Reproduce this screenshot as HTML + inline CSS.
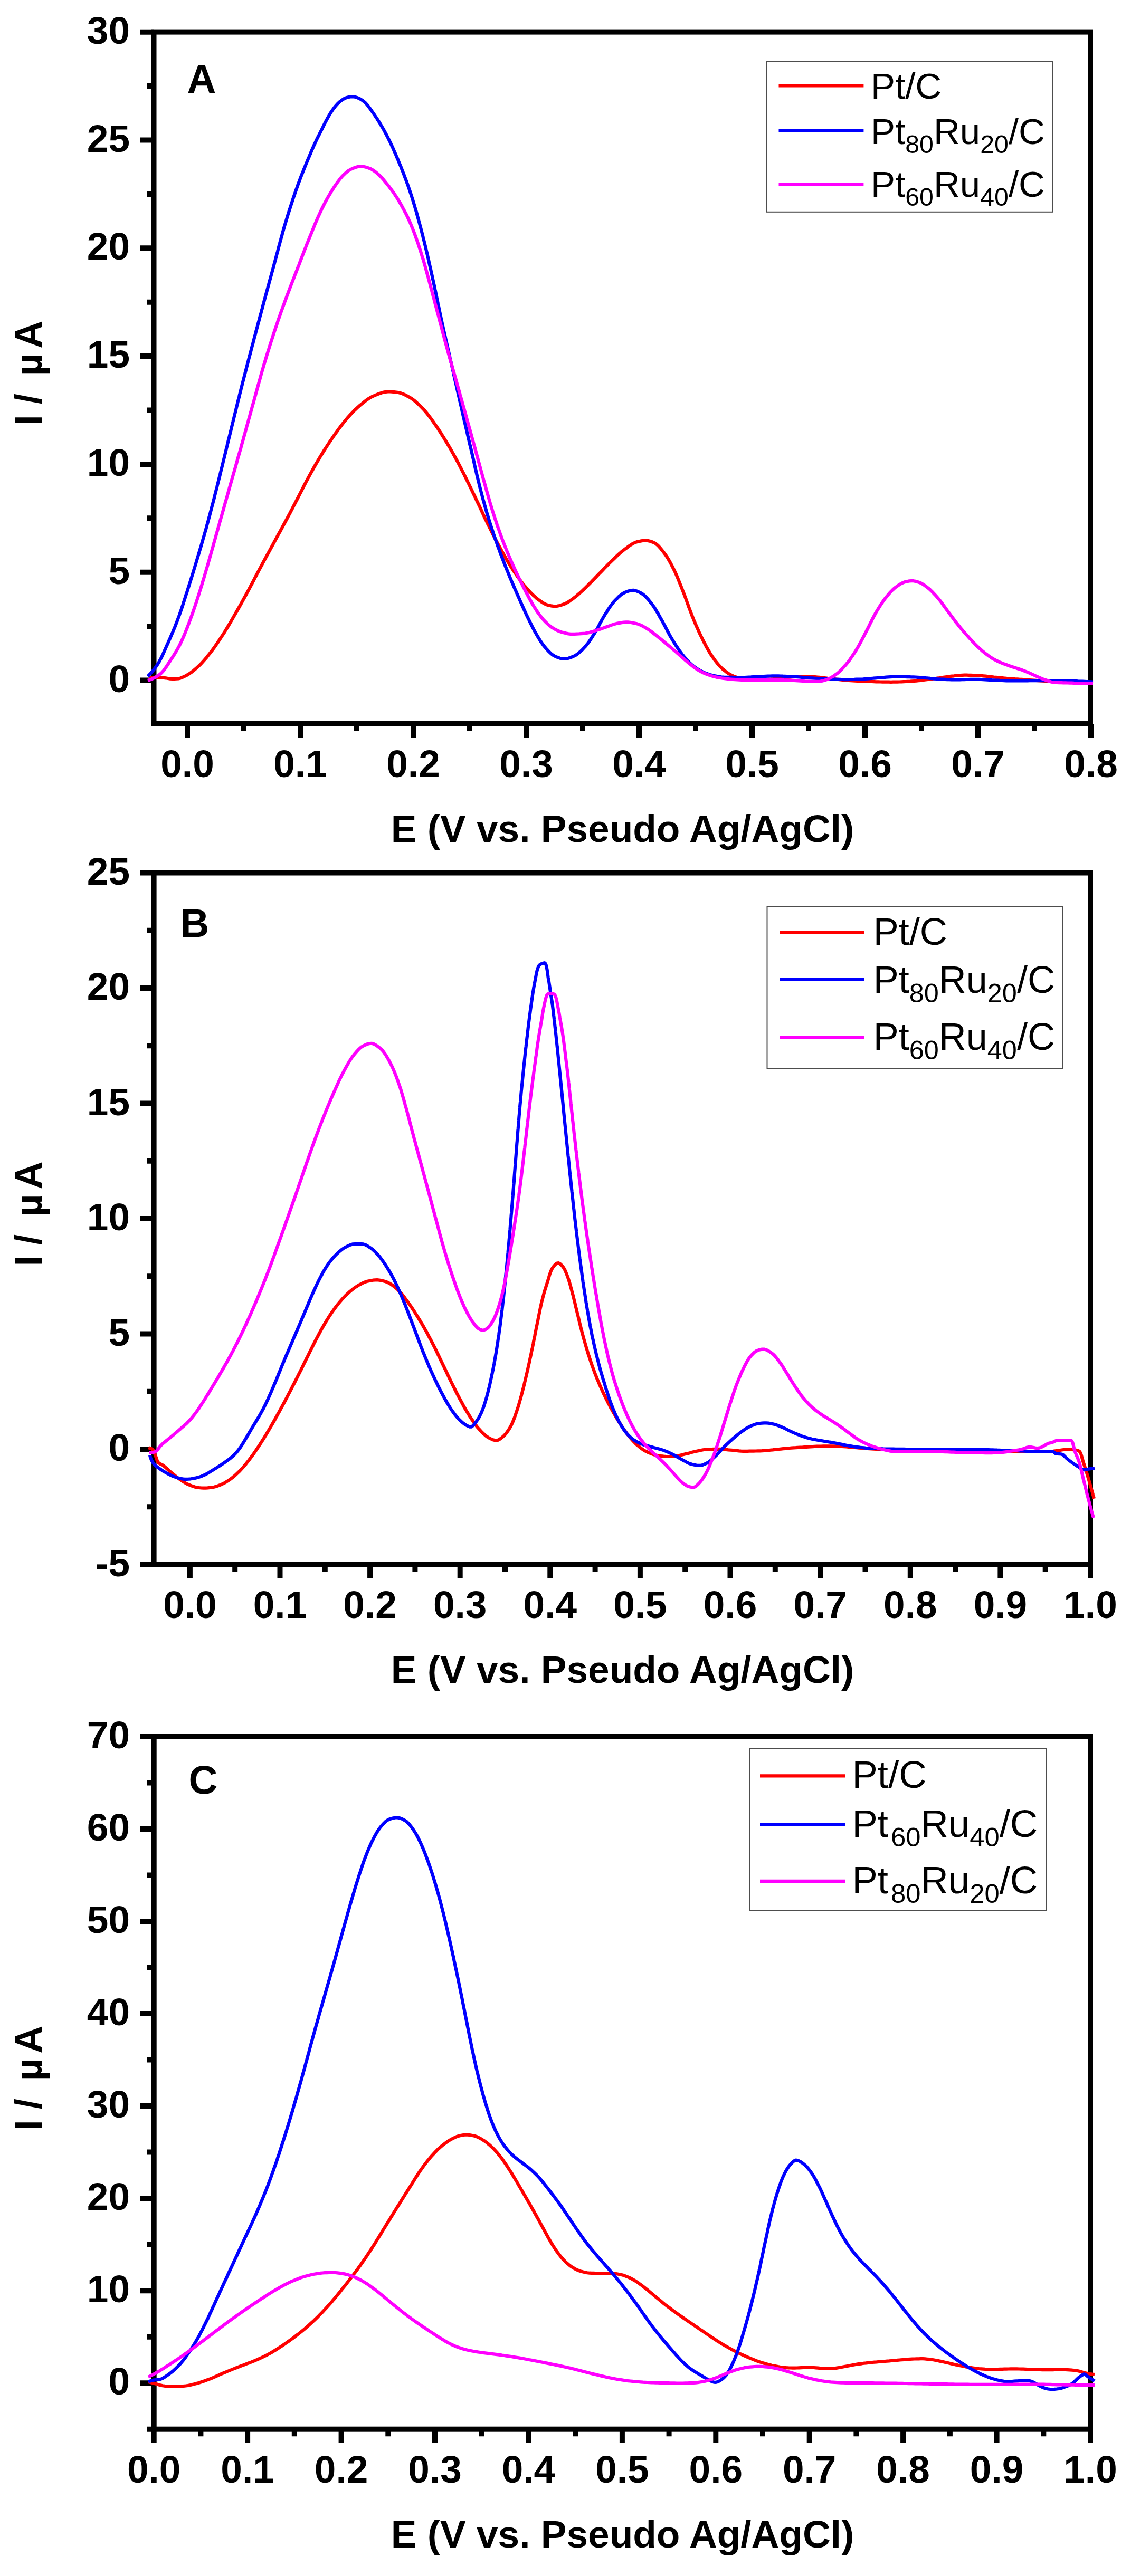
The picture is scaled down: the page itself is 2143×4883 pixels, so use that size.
<!DOCTYPE html><html><head><meta charset="utf-8"><title>DPV figure</title>
<style>html,body{margin:0;padding:0;background:#fff}svg{display:block}text{font-family:"Liberation Sans",Arial,Helvetica,sans-serif;fill:#000}.tl,.al{font-weight:bold;font-size:73px}.lg{font-weight:normal}</style></head><body>
<svg width="2143" height="4883" viewBox="0 0 2143 4883">
<rect width="2143" height="4883" fill="#fff"/>
<rect x="291.5" y="60.6" width="1774.5" height="1311.4" fill="none" stroke="#000" stroke-width="10"/>
<path d="M355.0 1372.0V1398.0M569.0 1372.0V1398.0M783.0 1372.0V1398.0M997.0 1372.0V1398.0M1211.0 1372.0V1398.0M1425.0 1372.0V1398.0M1639.0 1372.0V1398.0M1853.0 1372.0V1398.0M2067.0 1372.0V1398.0M462.0 1372.0V1385.5M676.0 1372.0V1385.5M890.0 1372.0V1385.5M1104.0 1372.0V1385.5M1318.0 1372.0V1385.5M1532.0 1372.0V1385.5M1746.0 1372.0V1385.5M1960.0 1372.0V1385.5M291.5 1289.5H265.5M291.5 1084.7H265.5M291.5 879.9H265.5M291.5 675.1H265.5M291.5 470.3H265.5M291.5 265.5H265.5M291.5 60.7H265.5M291.5 1187.1H278.0M291.5 982.3H278.0M291.5 777.5H278.0M291.5 572.7H278.0M291.5 367.9H278.0M291.5 163.1H278.0" stroke="#000" stroke-width="10" fill="none"/>
<g fill="none" stroke-width="6.2" stroke-linejoin="round" stroke-linecap="butt">
<path d="M282.4 1285.0l4 -0.6l4 -0.4l4 -0.2l4 -0.1l3.9 0.1l4 0.4l4 0.6l4 0.5l3.9 0.7l4 0.6l4 0.2l4 0l4 -0.2l3.9 -0.2l3.9 -1l3.8 -1.5l3.7 -1.7l3.5 -1.7l3.4 -2l3.4 -2.2l3.3 -2.4l3.2 -2.5l3.1 -2.6l3.1 -2.6l2.9 -2.7l2.9 -2.7l2.8 -2.8l2.7 -3l2.7 -3l2.6 -3l2.6 -3.1l2.5 -3.2l2.5 -3.1l2.5 -3.1l2.4 -3.2l2.4 -3.2l2.4 -3.2l2.3 -3.3l2.3 -3.3l2.2 -3.3l2.2 -3.4l2.2 -3.3l2.2 -3.4l2.2 -3.3l2.2 -3.4l2.1 -3.4l2.1 -3.4l2.1 -3.4l2 -3.4l2.1 -3.5l2 -3.4l2 -3.5l2 -3.4l2 -3.5l2 -3.5l2 -3.4l2 -3.5l2 -3.5l2 -3.5l1.9 -3.5l2 -3.5l1.9 -3.5l1.9 -3.5l2 -3.5l1.9 -3.5l1.9 -3.5l1.9 -3.5l1.9 -3.5l1.9 -3.5l1.9 -3.6l1.9 -3.5l1.9 -3.5l1.8 -3.6l1.9 -3.5l1.8 -3.6l1.9 -3.5l1.8 -3.6l1.9 -3.5l1.9 -3.6l1.8 -3.5l1.9 -3.5l1.9 -3.5l1.9 -3.6l1.9 -3.5l1.9 -3.5l1.9 -3.5l1.9 -3.5l2 -3.6l1.9 -3.5l1.9 -3.5l1.9 -3.5l1.9 -3.5l1.9 -3.5l1.9 -3.5l1.9 -3.5l2 -3.6l1.9 -3.5l1.9 -3.5l1.9 -3.5l2 -3.5l1.9 -3.5l1.9 -3.5l1.9 -3.5l1.9 -3.6l1.9 -3.5l1.9 -3.5l1.9 -3.5l1.9 -3.6l1.8 -3.5l1.9 -3.5l1.9 -3.6l1.8 -3.5l1.9 -3.6l1.8 -3.5l1.9 -3.6l1.8 -3.5l1.9 -3.6l1.8 -3.5l1.8 -3.6l1.8 -3.6l1.8 -3.5l1.9 -3.6l1.8 -3.6l1.8 -3.5l1.8 -3.6l1.9 -3.5l1.8 -3.6l1.9 -3.5l1.9 -3.5l1.9 -3.5l1.9 -3.5l2 -3.5l1.9 -3.5l2 -3.5l2 -3.5l2 -3.5l2 -3.4l2 -3.5l2.1 -3.4l2 -3.5l2.1 -3.4l2.1 -3.4l2.1 -3.4l2.1 -3.4l2.2 -3.4l2.1 -3.3l2.2 -3.4l2.2 -3.3l2.2 -3.4l2.3 -3.3l2.2 -3.3l2.3 -3.3l2.3 -3.2l2.3 -3.3l2.4 -3.2l2.3 -3.3l2.4 -3.2l2.4 -3.2l2.5 -3.2l2.4 -3.1l2.6 -3.2l2.5 -3l2.6 -3l2.7 -3l2.7 -3l2.7 -2.9l2.8 -2.9l2.9 -2.8l2.9 -2.8l2.9 -2.7l3 -2.6l3.1 -2.6l3.1 -2.5l3.2 -2.6l3.2 -2.4l3.3 -2.4l3.4 -2.1l3.5 -2l3.5 -1.6l3.6 -1.5l3.8 -1.6l3.8 -1.5l3.9 -1.3l3.9 -1.1l4 -0.7l3.9 -0.4l4 0.1l4 0.2l4 0.4l4 0.4l3.9 0.5l3.8 0.9l3.9 1.4l3.7 1.6l3.7 1.8l3.6 2l3.4 1.9l3.3 2.1l3.2 2.3l3.2 2.5l3 2.7l3 2.7l2.9 2.9l2.9 2.9l2.7 2.8l2.7 2.9l2.6 3l2.6 3.1l2.4 3.1l2.5 3.2l2.4 3.3l2.3 3.2l2.4 3.3l2.3 3.3l2.3 3.3l2.2 3.3l2.3 3.3l2.2 3.4l2.2 3.3l2.1 3.4l2.1 3.4l2.2 3.4l2 3.4l2.1 3.4l2.1 3.5l2 3.4l2.1 3.4l2 3.5l2 3.5l1.9 3.5l2 3.5l1.9 3.5l1.9 3.5l1.9 3.5l1.9 3.5l1.9 3.6l1.8 3.5l1.9 3.6l1.8 3.5l1.8 3.6l1.8 3.6l1.8 3.5l1.8 3.6l1.8 3.6l1.8 3.6l1.7 3.6l1.8 3.6l1.7 3.6l1.8 3.6l1.7 3.6l1.7 3.6l1.7 3.6l1.8 3.6l1.7 3.6l1.7 3.6l1.7 3.6l1.8 3.7l1.7 3.6l1.7 3.6l1.7 3.6l1.7 3.7l1.6 3.6l1.7 3.6l1.7 3.6l1.7 3.7l1.8 3.6l1.7 3.6l1.7 3.6l1.8 3.6l1.8 3.5l1.8 3.6l1.8 3.6l1.8 3.6l1.8 3.5l1.8 3.6l1.8 3.6l1.9 3.5l1.8 3.6l1.9 3.5l1.9 3.5l1.9 3.5l1.9 3.5l2 3.5l2 3.5l1.9 3.5l2 3.5l2 3.5l2 3.4l2.1 3.5l2.1 3.4l2.1 3.4l2.1 3.4l2.2 3.3l2.2 3.3l2.3 3.3l2.2 3.3l2.3 3.3l2.4 3.3l2.4 3.2l2.4 3.2l2.5 3.2l2.5 3.1l2.6 3l2.6 3l2.7 3l2.7 2.9l2.8 2.9l2.9 2.9l3 2.7l3 2.7l3.1 2.5l3.2 2.3l3.3 2.3l3.4 2.3l3.5 2l3.7 1.6l3.7 1l3.9 0.8l4.1 0.5l4 0.3l3.9 -0.3l4 -0.9l3.9 -1.1l3.8 -1.3l3.6 -1.4l3.5 -1.8l3.4 -2.2l3.4 -2.3l3.3 -2.4l3.2 -2.4l3.1 -2.4l3.1 -2.6l3 -2.6l3 -2.7l3 -2.7l2.9 -2.8l2.9 -2.8l2.8 -2.8l2.9 -2.8l2.8 -2.8l2.8 -2.9l2.8 -2.8l2.8 -2.9l2.8 -2.9l2.7 -2.9l2.8 -2.9l2.8 -2.9l2.8 -2.8l2.8 -2.9l2.7 -2.9l2.8 -2.9l2.8 -2.9l2.8 -2.8l2.8 -2.8l2.9 -2.8l2.9 -2.8l2.9 -2.8l2.9 -2.8l2.9 -2.8l3 -2.7l3 -2.6l3.1 -2.5l3.1 -2.4l3.3 -2.4l3.2 -2.5l3.4 -2.4l3.4 -2.3l3.5 -2l3.6 -1.7l3.6 -1.3l3.8 -0.8l4 -0.8l4 -0.6l4 -0.2l4 0.3l4.1 0.9l3.9 1.2l3.5 1.4l3.3 1.7l3.1 2.4l3 2.8l2.8 3.1l2.7 3.3l2.6 3.2l2.4 3.2l2.3 3.2l2.3 3.2l2.1 3.4l2.1 3.5l2 3.5l1.9 3.5l1.9 3.6l1.8 3.6l1.8 3.6l1.8 3.6l1.7 3.6l1.6 3.6l1.6 3.7l1.5 3.7l1.5 3.7l1.5 3.7l1.5 3.8l1.5 3.7l1.4 3.7l1.5 3.8l1.5 3.7l1.4 3.7l1.4 3.8l1.4 3.7l1.4 3.8l1.3 3.7l1.4 3.8l1.3 3.8l1.4 3.7l1.4 3.8l1.4 3.7l1.4 3.8l1.5 3.7l1.5 3.7l1.5 3.7l1.6 3.7l1.5 3.7l1.6 3.7l1.6 3.6l1.7 3.7l1.6 3.6l1.7 3.7l1.7 3.6l1.8 3.6l1.7 3.6l1.8 3.5l1.9 3.6l1.8 3.5l1.9 3.6l2 3.5l2 3.5l2 3.5l2.1 3.4l2.2 3.3l2.3 3.2l2.3 3.3l2.4 3.2l2.5 3.2l2.6 3.1l2.7 3l2.8 2.9l2.9 2.7l3 2.5l3.2 2.5l3.3 2.4l3.4 2.2l3.5 1.9l3.6 1.6l3.7 1.5l3.8 1.4l3.8 1.3l4 1.1l3.9 0.7l4 0.3l3.9 0.1l4 0.1l4 0l4 0.1l4 0l4 0.1l4.1 0l4 0l4 0l4 -0.2l4 -0.3l3.9 -0.3l4 -0.4l4 -0.5l4 -0.4l4 -0.4l4 -0.4l4 -0.4l3.9 -0.5l4 -0.4l4 -0.4l4 -0.4l4 -0.3l4 -0.2l3.9 -0.2l4 -0.1l4.1 -0.1l4 0l4 0l3.9 0.1l4 0.2l4 0.3l4 0.3l4 0.3l4 0.4l4 0.4l4 0.5l3.9 0.5l4 0.5l4 0.4l4 0.4l3.9 0.5l4 0.4l4 0.4l4 0.5l4 0.4l3.9 0.4l4 0.4l4 0.3l4 0.3l4 0.2l4 0.2l4 0.3l4 0.2l4 0.2l4 0.1l4 0.2l4 0.2l4 0.1l4 0.1l4 0.1l4 0.2l4 0.1l4 0.1l4 0.1l4 0l4 0.1l4 0l4 0.1l4 -0.1l4 0l4 -0.1l4 -0.1l4 -0.2l4 -0.2l4 -0.1l4 -0.2l4 -0.2l3.9 -0.3l4 -0.3l4 -0.3l4 -0.5l4 -0.4l4 -0.5l3.9 -0.5l4 -0.5l4 -0.5l3.9 -0.5l4 -0.5l4 -0.6l3.9 -0.6l4 -0.5l3.9 -0.6l4 -0.6l4 -0.6l3.9 -0.6l4 -0.6l4 -0.4l3.9 -0.4l4 -0.5l4 -0.4l4 -0.3l4 -0.2l4 -0.2l4 0l4 0.1l4 0.1l4 0.1l4 0.2l4 0.1l4 0.2l4 0.4l4 0.4l3.9 0.4l4 0.4l4 0.4l4 0.5l3.9 0.5l4 0.4l4 0.4l4 0.4l4 0.4l3.9 0.4l4 0.4l4 0.3l4 0.4l4 0.3l4 0.3l4 0.2l4 0.3l4 0.2l3.9 0.3l4 0.3l4 0.2l4 0.3l4 0.3l4 0.3l4 0.3l4 0.3l4 0.2l4 0.3l4 0.2l4 0.2l4 0.3l3.9 0.2l4 0.2l4 0.2l4 0.2l4 0.2l4 0.2l4 0.2l4 0.2l4 0.1l4 0.2l4 0.2l4 0.2l4 0.1l4 0.2l4 0.1l4 0.2l4 0.1l4 0.2l4 0.1l4 0.2l4 0.1" stroke="#ff0000"/>
<path d="M280.0 1282.0l2.8 -2.9l2.8 -3l2.6 -3l2.6 -3.1l2.5 -3.2l2.3 -3.2l2.3 -3.3l2.1 -3.3l2 -3.4l1.9 -3.5l1.8 -3.5l1.8 -3.6l1.7 -3.7l1.6 -3.7l1.7 -3.7l1.6 -3.7l1.6 -3.6l1.7 -3.7l1.6 -3.7l1.6 -3.6l1.6 -3.7l1.6 -3.7l1.6 -3.6l1.6 -3.7l1.5 -3.7l1.6 -3.7l1.5 -3.7l1.5 -3.8l1.4 -3.7l1.4 -3.7l1.4 -3.8l1.4 -3.7l1.4 -3.8l1.3 -3.8l1.3 -3.8l1.3 -3.7l1.2 -3.8l1.3 -3.8l1.2 -3.9l1.3 -3.8l1.2 -3.8l1.2 -3.8l1.2 -3.8l1.3 -3.8l1.2 -3.9l1.2 -3.8l1.2 -3.8l1.2 -3.8l1.2 -3.8l1.2 -3.8l1.2 -3.9l1.2 -3.8l1.2 -3.8l1.2 -3.8l1.1 -3.9l1.2 -3.8l1.2 -3.8l1.1 -3.9l1.2 -3.8l1.1 -3.8l1.2 -3.9l1.1 -3.8l1.2 -3.8l1.1 -3.9l1.2 -3.8l1.1 -3.9l1.2 -3.8l1.1 -3.8l1.1 -3.9l1.1 -3.8l1.1 -3.9l1.1 -3.8l1.1 -3.9l1.1 -3.8l1.1 -3.9l1.1 -3.8l1 -3.9l1.1 -3.9l1.1 -3.8l1 -3.9l1 -3.9l1.1 -3.8l1 -3.9l1 -3.9l1 -3.8l1 -3.9l1.1 -3.9l1 -3.9l1 -3.9l1 -3.8l1 -3.9l0.9 -3.9l1 -3.9l1 -3.9l1 -3.8l1 -3.9l0.9 -3.9l1 -3.9l1 -3.9l0.9 -3.9l1 -3.8l1 -3.9l0.9 -3.9l1 -3.9l1 -3.9l0.9 -3.9l1 -3.9l0.9 -3.9l1 -3.9l0.9 -3.8l1 -3.9l0.9 -3.9l1 -3.9l0.9 -3.9l0.9 -3.9l1 -3.9l0.9 -3.9l1 -3.9l0.9 -3.9l1 -3.9l0.9 -3.8l1 -3.9l0.9 -3.9l1 -3.9l0.9 -3.9l1 -3.9l0.9 -3.9l1 -3.9l0.9 -3.9l1 -3.9l0.9 -3.8l1 -3.9l1 -3.9l0.9 -3.9l1 -3.9l0.9 -3.9l1 -3.9l0.9 -3.9l1 -3.8l1 -3.9l0.9 -3.9l1 -3.9l1 -3.9l0.9 -3.9l1 -3.9l1 -3.8l1 -3.9l1 -3.9l1 -3.9l1 -3.9l1 -3.8l1 -3.9l1 -3.9l1 -3.9l1 -3.8l1 -3.9l1 -3.9l1 -3.9l1 -3.8l1 -3.9l1.1 -3.9l1 -3.9l1 -3.8l1 -3.9l1 -3.9l1.1 -3.8l1 -3.9l1 -3.9l1 -3.9l1.1 -3.8l1 -3.9l1 -3.9l1 -3.8l1.1 -3.9l1 -3.9l1 -3.9l1.1 -3.8l1 -3.9l1 -3.9l1 -3.8l1.1 -3.9l1 -3.9l1.1 -3.8l1 -3.9l1 -3.9l1.1 -3.8l1 -3.9l1 -3.9l1.1 -3.8l1 -3.9l1.1 -3.9l1 -3.8l1.1 -3.9l1 -3.9l1.1 -3.8l1 -3.9l1.1 -3.9l1 -3.8l1.1 -3.9l1.1 -3.8l1 -3.9l1.1 -3.9l1 -3.8l1.1 -3.9l1 -3.9l1 -3.8l1.1 -3.9l1 -3.9l1 -3.9l1 -3.8l1.1 -3.9l1 -3.9l1 -3.8l1 -3.9l1.1 -3.9l1 -3.9l1.1 -3.8l1 -3.9l1.1 -3.8l1 -3.9l1.1 -3.9l1.1 -3.8l1.1 -3.9l1.1 -3.8l1.2 -3.8l1.1 -3.9l1.2 -3.8l1.2 -3.8l1.1 -3.9l1.2 -3.8l1.2 -3.8l1.2 -3.8l1.3 -3.8l1.2 -3.9l1.2 -3.8l1.3 -3.8l1.2 -3.8l1.3 -3.8l1.3 -3.8l1.3 -3.8l1.3 -3.7l1.3 -3.8l1.4 -3.8l1.3 -3.8l1.4 -3.7l1.4 -3.8l1.4 -3.7l1.4 -3.8l1.4 -3.7l1.5 -3.7l1.5 -3.7l1.5 -3.8l1.5 -3.7l1.5 -3.7l1.5 -3.7l1.6 -3.7l1.5 -3.7l1.6 -3.7l1.5 -3.7l1.6 -3.7l1.5 -3.6l1.6 -3.7l1.6 -3.7l1.6 -3.7l1.7 -3.6l1.7 -3.6l1.7 -3.7l1.7 -3.6l1.8 -3.6l1.8 -3.5l1.8 -3.6l1.8 -3.6l1.8 -3.6l1.8 -3.6l1.7 -3.6l1.8 -3.5l1.9 -3.6l1.9 -3.5l1.9 -3.5l2 -3.6l2 -3.4l2.2 -3.5l2.2 -3.3l2.3 -3.2l2.4 -3.2l2.6 -3l2.7 -3l2.9 -2.8l3.1 -2.6l3.2 -2.3l3.5 -2.2l3.6 -1.6l3.9 -1l4 -0.8l3.9 -0.4l4 0.4l3.9 1.2l3.7 1.5l3.6 1.7l3.5 2.2l3.2 2.4l2.9 2.6l2.7 2.9l2.5 3.1l2.4 3.3l2.4 3.3l2.3 3.3l2.3 3.3l2.3 3.3l2.2 3.3l2.3 3.3l2.1 3.4l2.2 3.4l2.1 3.4l2 3.5l2.1 3.4l2 3.5l1.9 3.5l1.9 3.5l1.9 3.5l1.8 3.6l1.8 3.5l1.8 3.6l1.8 3.6l1.7 3.7l1.7 3.6l1.7 3.6l1.6 3.7l1.6 3.7l1.7 3.6l1.5 3.7l1.6 3.7l1.6 3.7l1.5 3.7l1.5 3.7l1.6 3.7l1.5 3.7l1.4 3.7l1.5 3.7l1.5 3.8l1.4 3.7l1.4 3.8l1.4 3.7l1.4 3.8l1.4 3.8l1.3 3.7l1.4 3.8l1.3 3.8l1.3 3.8l1.2 3.8l1.3 3.8l1.2 3.8l1.2 3.8l1.2 3.8l1.1 3.8l1.2 3.9l1.1 3.8l1.2 3.9l1.1 3.8l1.1 3.9l1 3.8l1.1 3.9l1.1 3.9l1 3.8l1.1 3.9l1 3.9l1 3.8l1.1 3.9l1 3.9l1 3.9l1 3.8l0.9 3.9l1 3.9l1 3.9l0.9 3.9l1 3.9l0.9 3.9l0.9 3.9l1 3.9l0.9 3.9l0.9 3.9l0.9 3.9l0.9 3.9l0.8 3.9l0.9 3.9l0.9 3.9l0.9 3.9l0.9 3.9l0.8 3.9l0.9 3.9l0.9 3.9l0.8 4l0.9 3.9l0.8 3.9l0.9 3.9l0.8 3.9l0.8 3.9l0.9 3.9l0.8 4l0.8 3.9l0.8 3.9l0.8 3.9l0.8 3.9l0.8 4l0.9 3.9l0.8 3.9l0.8 3.9l0.8 4l0.9 3.9l0.8 3.9l0.8 3.9l0.9 3.9l0.8 3.9l0.9 3.9l0.9 3.9l0.8 3.9l0.9 4l0.9 3.9l0.9 3.9l0.9 3.9l0.8 3.9l0.9 3.9l0.9 3.9l0.9 3.9l0.9 3.9l0.9 3.9l0.9 3.9l0.9 3.9l0.9 3.9l0.8 3.9l0.9 3.9l0.9 3.9l0.9 3.9l0.9 3.9l0.9 3.9l0.9 4l0.9 3.9l0.8 3.9l0.9 3.9l0.9 3.9l0.9 3.9l0.9 3.9l0.9 3.9l0.9 3.9l0.8 3.9l0.9 3.9l0.9 3.9l0.9 3.9l0.9 3.9l0.9 3.9l0.9 3.9l0.9 3.9l0.9 3.9l0.9 3.9l0.9 3.9l0.8 3.9l0.9 3.9l0.9 3.9l0.9 3.9l0.9 4l0.9 3.9l1 3.9l0.9 3.9l0.9 3.9l0.9 3.9l0.9 3.9l0.9 3.9l0.9 3.9l0.9 3.9l0.9 3.9l0.9 3.9l0.9 3.9l0.9 3.9l1 3.9l0.9 3.9l0.9 3.9l0.9 3.9l0.9 3.9l0.9 3.9l0.9 3.9l0.9 3.9l0.8 3.9l0.9 3.9l0.9 3.9l0.9 3.9l0.9 3.9l0.9 3.9l0.9 3.9l1 3.9l0.9 3.9l1 3.9l0.9 3.8l1 3.9l1 3.9l1 3.9l1 3.9l1 3.8l1.1 3.9l1 3.9l1.1 3.8l1 3.9l1.1 3.9l1.1 3.8l1.1 3.9l1.1 3.8l1.1 3.9l1.2 3.8l1.1 3.8l1.2 3.8l1.2 3.9l1.2 3.8l1.2 3.8l1.2 3.8l1.3 3.8l1.3 3.8l1.2 3.8l1.3 3.8l1.3 3.8l1.3 3.8l1.4 3.8l1.3 3.7l1.3 3.8l1.4 3.8l1.4 3.7l1.3 3.8l1.4 3.8l1.5 3.7l1.4 3.7l1.4 3.8l1.5 3.7l1.4 3.7l1.5 3.8l1.5 3.7l1.5 3.7l1.5 3.7l1.5 3.7l1.5 3.7l1.5 3.7l1.6 3.7l1.5 3.7l1.6 3.7l1.6 3.7l1.6 3.7l1.6 3.6l1.6 3.7l1.6 3.7l1.6 3.6l1.6 3.7l1.7 3.6l1.6 3.7l1.6 3.7l1.6 3.6l1.7 3.7l1.6 3.6l1.7 3.7l1.6 3.6l1.7 3.7l1.7 3.6l1.7 3.6l1.8 3.6l1.7 3.6l1.8 3.6l1.8 3.6l1.8 3.6l1.8 3.5l1.9 3.6l2 3.5l2 3.4l2 3.5l2.1 3.5l2.1 3.4l2.2 3.4l2.3 3.3l2.3 3.2l2.5 3l2.6 3.1l2.8 3.1l2.9 3.1l3 2.8l3.1 2.5l3.2 2.1l3.4 1.6l3.8 1.5l3.9 1.4l4 1l3.9 0.3l3.9 -0.4l4 -0.9l4 -1.3l3.7 -1.4l3.5 -1.5l3.4 -2l3.3 -2.3l3.2 -2.7l3.1 -2.8l2.9 -2.8l2.7 -2.9l2.7 -2.9l2.5 -3.1l2.4 -3.1l2.4 -3.3l2.3 -3.4l2.2 -3.4l2.2 -3.4l2.1 -3.4l2.1 -3.4l2 -3.4l2 -3.5l1.9 -3.5l1.9 -3.6l1.8 -3.5l1.9 -3.6l2 -3.5l2 -3.5l2 -3.4l2.1 -3.4l2.2 -3.4l2.1 -3.5l2.2 -3.4l2.3 -3.3l2.3 -3.3l2.4 -3.2l2.5 -3l2.7 -2.9l2.8 -2.9l2.9 -2.9l3.1 -2.8l3.2 -2.5l3.4 -2.2l3.4 -1.7l3.7 -1.4l3.9 -1.3l4 -0.9l3.9 -0.2l3.9 0.7l3.9 1.4l3.8 1.8l3.4 1.8l3.2 2.1l3 2.5l3 2.9l2.8 3l2.7 3.2l2.5 3.2l2.5 3.1l2.3 3.2l2.3 3.2l2.1 3.4l2.1 3.4l2.1 3.5l2 3.5l1.9 3.6l2 3.5l2 3.5l2 3.5l1.9 3.5l1.9 3.5l1.8 3.6l1.9 3.5l1.8 3.6l1.9 3.6l1.9 3.5l1.9 3.5l2.1 3.4l2 3.4l2.1 3.4l2.2 3.5l2.1 3.3l2.3 3.4l2.2 3.3l2.3 3.3l2.4 3.2l2.4 3.2l2.5 3.1l2.6 3l2.7 3.1l2.7 3l2.8 2.9l2.9 2.8l3 2.6l3.1 2.4l3.2 2.4l3.4 2.2l3.4 2.1l3.6 2l3.5 1.7l3.7 1.6l3.7 1.5l3.8 1.4l3.9 1.2l3.8 0.9l3.9 0.8l4 0.8l3.9 0.7l4 0.5l4 0.4l4 0.2l4 0l4 0l4 0l4 0.1l4 0l4 0l4.1 0l4 0l4 0l4 -0.2l4 -0.2l4 -0.2l4 -0.3l4 -0.2l4 -0.3l4 -0.2l4 -0.1l4 -0.2l4 -0.2l4 -0.2l4 -0.2l4 -0.1l4 0l4 0l4 0l4 0.1l4 0.2l4 0.1l4 0.2l4 0.3l4 0.2l4 0.2l4 0.2l4 0.3l4 0.3l4 0.3l4 0.4l3.9 0.3l4 0.3l4 0.3l4 0.2l4 0.3l4 0.2l4 0.2l4 0.3l4 0.2l4 0.1l4 0.2l4 0.2l4 0.2l4 0.2l4 0.2l4 0.2l4 0.1l4 0.1l4 0.1l4 0l4 0l4 -0.1l4 0l4.1 -0.1l4 -0.2l4 -0.1l4 -0.1l4 -0.2l3.9 -0.3l4 -0.3l4 -0.3l4 -0.4l4 -0.3l4 -0.4l4 -0.3l4 -0.3l4 -0.3l4 -0.3l4 -0.4l4 -0.3l4 -0.2l4 -0.2l4 -0.1l4 0l4 0l4 0l4 0.1l4 0l4 0.1l4 0.1l4 0.1l4 0.1l4 0.1l4 0.3l4 0.3l4 0.4l4 0.3l4 0.4l4 0.3l3.9 0.4l4 0.3l4 0.4l4 0.4l4 0.3l4 0.3l4 0.1l4 0.2l4 0.2l4 0.1l4 0.1l4 0.1l4 0l4 -0.1l4 0l4 -0.1l4 -0.1l4 -0.1l4 0l4 -0.1l4 0l4 -0.1l4.1 0l4 0.1l4 0.1l4 0.2l4 0.2l4 0.2l4 0.2l4 0.3l4 0.2l3.9 0.2l4 0.2l4 0.2l4 0.1l4.1 0.1l4 0.2l4 0l4 0.1l4 0l4 0l4 0l4 0l4 -0.1l4 0l4 0l4 0l4 -0.1l4 0l4 0l4 0l4 0l4 0l4 0l4 0l4 0l4 0l4 0.1l4.1 0l4 0.1l4 0.1l4 0l4 0.1l4 0.1l4 0.1l4 0.1l4 0l4 0.1l4 0.1l4 0.1l4 0.2l4 0.1l4 0.1l4 0.2l4 0.2l4 0.1l4 0.2l4 0.2" stroke="#0000ff"/>
<path d="M280.0 1290.0l4 -1.4l3.9 -1.5l3.7 -1.8l3.5 -1.9l3.4 -2.1l3.1 -2.2l3 -2.3l2.7 -2.7l2.6 -2.9l2.4 -3.2l2.4 -3.4l2.3 -3.5l2.2 -3.4l2.2 -3.5l2.2 -3.3l2.2 -3.3l2.2 -3.4l2.1 -3.4l2.1 -3.4l2.1 -3.5l2 -3.4l1.9 -3.6l1.9 -3.5l1.7 -3.5l1.8 -3.6l1.6 -3.6l1.7 -3.7l1.6 -3.7l1.5 -3.7l1.5 -3.7l1.5 -3.7l1.5 -3.7l1.4 -3.8l1.4 -3.7l1.4 -3.8l1.4 -3.7l1.4 -3.8l1.4 -3.8l1.4 -3.7l1.3 -3.8l1.3 -3.8l1.3 -3.8l1.3 -3.7l1.2 -3.8l1.3 -3.8l1.2 -3.9l1.3 -3.8l1.2 -3.8l1.2 -3.8l1.2 -3.8l1.2 -3.8l1.2 -3.8l1.2 -3.9l1.2 -3.8l1.1 -3.8l1.2 -3.8l1.1 -3.9l1.2 -3.8l1.1 -3.9l1.1 -3.8l1.1 -3.8l1.2 -3.9l1.1 -3.8l1.1 -3.9l1.1 -3.8l1.1 -3.9l1.1 -3.8l1.1 -3.9l1.1 -3.8l1.1 -3.9l1.1 -3.8l1.1 -3.9l1.1 -3.8l1 -3.9l1.1 -3.8l1.1 -3.9l1.1 -3.8l1 -3.9l1.1 -3.8l1.1 -3.9l1.1 -3.8l1.1 -3.9l1.1 -3.8l1 -3.9l1.1 -3.8l1.1 -3.9l1.1 -3.8l1.1 -3.9l1.1 -3.8l1.1 -3.9l1.1 -3.8l1 -3.9l1.1 -3.8l1.1 -3.9l1.1 -3.9l1.1 -3.8l1.1 -3.9l1.1 -3.8l1.1 -3.9l1 -3.8l1.1 -3.9l1.1 -3.8l1.1 -3.9l1.1 -3.8l1.1 -3.9l1.1 -3.8l1.1 -3.9l1.1 -3.8l1.1 -3.8l1.1 -3.9l1.1 -3.8l1.1 -3.9l1.1 -3.8l1.1 -3.9l1 -3.8l1.1 -3.9l1.1 -3.8l1.1 -3.9l1.1 -3.8l1.1 -3.9l1.1 -3.8l1 -3.9l1.1 -3.9l1.1 -3.8l1.1 -3.9l1 -3.8l1.1 -3.9l1.1 -3.8l1 -3.9l1.1 -3.8l1.1 -3.9l1 -3.9l1.1 -3.8l1.1 -3.9l1 -3.8l1.1 -3.9l1.1 -3.8l1 -3.9l1.1 -3.9l1.1 -3.8l1 -3.9l1.1 -3.8l1.1 -3.9l1.1 -3.8l1 -3.9l1.1 -3.8l1.1 -3.9l1 -3.9l1.1 -3.8l1 -3.9l1.1 -3.8l1.1 -3.9l1 -3.9l1.1 -3.8l1.1 -3.9l1 -3.8l1.1 -3.9l1.1 -3.8l1.1 -3.9l1.1 -3.8l1.1 -3.9l1.1 -3.8l1.2 -3.8l1.1 -3.9l1.2 -3.8l1.1 -3.8l1.2 -3.9l1.2 -3.8l1.2 -3.8l1.2 -3.8l1.2 -3.8l1.2 -3.9l1.2 -3.8l1.2 -3.8l1.3 -3.8l1.2 -3.8l1.2 -3.8l1.3 -3.8l1.3 -3.8l1.2 -3.8l1.3 -3.8l1.3 -3.8l1.3 -3.8l1.2 -3.8l1.3 -3.7l1.4 -3.8l1.3 -3.8l1.3 -3.8l1.4 -3.7l1.3 -3.8l1.4 -3.8l1.4 -3.7l1.3 -3.8l1.4 -3.7l1.4 -3.8l1.4 -3.7l1.4 -3.8l1.4 -3.7l1.4 -3.8l1.4 -3.7l1.4 -3.8l1.5 -3.7l1.4 -3.7l1.5 -3.8l1.4 -3.7l1.5 -3.7l1.4 -3.8l1.5 -3.7l1.4 -3.7l1.5 -3.7l1.4 -3.8l1.5 -3.7l1.4 -3.7l1.4 -3.8l1.5 -3.7l1.4 -3.8l1.4 -3.7l1.5 -3.7l1.4 -3.8l1.4 -3.7l1.5 -3.7l1.4 -3.8l1.5 -3.7l1.5 -3.7l1.5 -3.7l1.5 -3.7l1.5 -3.7l1.5 -3.7l1.5 -3.7l1.5 -3.7l1.6 -3.8l1.5 -3.7l1.5 -3.7l1.6 -3.7l1.5 -3.7l1.6 -3.6l1.7 -3.7l1.6 -3.6l1.7 -3.7l1.7 -3.6l1.7 -3.6l1.8 -3.5l1.8 -3.6l1.8 -3.5l1.9 -3.6l1.9 -3.5l2 -3.5l2 -3.5l2.1 -3.4l2 -3.5l2.2 -3.4l2.1 -3.4l2.2 -3.3l2.2 -3.3l2.3 -3.3l2.4 -3.2l2.4 -3.3l2.5 -3.1l2.6 -3l2.8 -2.8l2.9 -2.8l3.1 -2.7l3.3 -2.5l3.4 -2l3.5 -1.6l3.7 -1.6l3.9 -1.3l4 -1l3.9 -0.5l3.9 0.2l4 0.8l4 1l3.8 1.3l3.6 1.4l3.5 1.9l3.4 2.2l3.2 2.6l3.1 2.5l3 2.7l2.8 2.8l2.7 3l2.7 3l2.5 3.1l2.6 3.1l2.5 3.1l2.5 3.1l2.4 3.2l2.4 3.2l2.4 3.3l2.3 3.3l2.2 3.3l2.2 3.4l2.2 3.3l2 3.4l2.1 3.4l2 3.5l2 3.5l1.9 3.5l1.9 3.5l1.9 3.6l1.9 3.5l1.8 3.6l1.7 3.6l1.7 3.7l1.7 3.6l1.6 3.6l1.6 3.7l1.5 3.7l1.5 3.7l1.5 3.7l1.4 3.7l1.4 3.8l1.4 3.7l1.3 3.8l1.4 3.8l1.3 3.8l1.3 3.8l1.2 3.8l1.3 3.8l1.2 3.8l1.2 3.8l1.2 3.9l1.2 3.8l1.2 3.8l1.2 3.8l1.1 3.9l1.1 3.8l1.1 3.9l1 3.8l1.1 3.9l1.1 3.8l1 3.9l1.1 3.9l1 3.8l1.1 3.9l1 3.8l1.1 3.9l1 3.9l1 3.8l1.1 3.9l1 3.9l1 3.8l1 3.9l1.1 3.9l1 3.8l1 3.9l1 3.9l1.1 3.9l1 3.8l1 3.9l1 3.9l1.1 3.8l1 3.9l1 3.9l1 3.8l1 3.9l1.1 3.9l1 3.8l1 3.9l1 3.9l1 3.9l1.1 3.8l1 3.9l1 3.9l1.1 3.8l1 3.9l1.1 3.8l1 3.9l1.1 3.9l1 3.8l1.1 3.9l1.1 3.8l1.1 3.9l1.1 3.8l1 3.9l1.1 3.8l1.1 3.9l1.1 3.8l1.1 3.9l1.1 3.8l1.1 3.9l1.1 3.8l1.1 3.9l1.1 3.8l1.1 3.9l1 3.8l1.1 3.9l1.1 3.8l1.1 3.9l1.1 3.8l1 3.9l1.1 3.8l1.1 3.9l1.1 3.9l1 3.8l1.1 3.9l1.1 3.8l1.1 3.9l1 3.8l1.1 3.9l1.1 3.8l1 3.9l1.1 3.9l1.1 3.8l1.1 3.9l1 3.8l1.1 3.9l1.1 3.8l1 3.9l1.1 3.8l1.1 3.9l1 3.9l1.1 3.8l1.1 3.9l1 3.8l1.1 3.9l1.1 3.8l1 3.9l1.1 3.9l1 3.8l1.1 3.9l1 3.8l1.1 3.9l1 3.9l1.1 3.8l1 3.9l1.1 3.9l1 3.8l1.1 3.9l1 3.8l1.1 3.9l1 3.9l1.1 3.8l1.1 3.9l1.1 3.8l1 3.9l1.1 3.8l1.1 3.9l1.1 3.8l1.1 3.9l1.1 3.8l1.1 3.9l1.1 3.8l1.1 3.9l1.1 3.8l1.2 3.8l1.2 3.9l1.1 3.8l1.2 3.8l1.3 3.8l1.2 3.8l1.2 3.8l1.3 3.8l1.3 3.8l1.2 3.8l1.3 3.8l1.4 3.8l1.3 3.8l1.3 3.7l1.4 3.8l1.4 3.8l1.3 3.7l1.4 3.7l1.5 3.8l1.4 3.7l1.5 3.7l1.5 3.7l1.5 3.7l1.5 3.7l1.6 3.7l1.5 3.7l1.6 3.7l1.6 3.7l1.6 3.6l1.6 3.7l1.7 3.7l1.6 3.6l1.7 3.6l1.7 3.7l1.7 3.6l1.7 3.6l1.7 3.6l1.8 3.6l1.7 3.6l1.8 3.6l1.8 3.6l1.8 3.6l1.8 3.5l1.8 3.6l1.9 3.5l1.8 3.6l1.9 3.6l1.8 3.5l2 3.5l1.9 3.5l2 3.5l2 3.4l2.1 3.4l2.2 3.4l2.2 3.4l2.2 3.3l2.4 3.3l2.4 3.2l2.5 3.1l2.5 3l2.8 3l2.8 2.9l2.9 2.8l3 2.7l3.1 2.4l3.3 2.2l3.4 2.1l3.5 1.9l3.7 1.8l3.8 1.5l3.7 1.2l3.9 1l3.9 1l4 0.8l4 0.4l3.9 0.1l4 -0.1l4 -0.2l4.1 -0.2l4 -0.3l4 -0.3l3.9 -0.3l3.9 -0.7l3.9 -0.9l3.9 -1.1l3.9 -1.2l3.8 -1.2l3.8 -1.1l3.8 -1.3l3.8 -1.3l3.8 -1.4l3.7 -1.3l3.8 -1.3l3.8 -1.4l3.8 -1.4l3.8 -1.3l3.8 -1.1l3.9 -0.9l3.9 -0.7l4 -0.7l4 -0.5l4 -0.3l3.9 0l4 0.4l4.1 0.6l3.9 0.8l3.9 0.8l3.7 1.1l3.7 1.5l3.7 1.8l3.5 2l3.5 2l3.4 2.1l3.3 2.2l3.3 2.3l3.2 2.5l3.1 2.5l3.2 2.5l3.1 2.5l3.1 2.5l3.1 2.5l3.1 2.5l3.1 2.6l3.1 2.6l3 2.6l3.1 2.5l3.1 2.6l3 2.6l3 2.6l3.1 2.6l3 2.6l3 2.7l3 2.7l3 2.6l3 2.7l3 2.6l3 2.6l3.1 2.6l3.1 2.6l3.1 2.5l3.1 2.5l3.3 2.3l3.3 2.2l3.4 2.1l3.5 2l3.6 1.9l3.6 1.7l3.6 1.5l3.8 1.4l3.8 1.4l3.8 1.2l3.9 1.1l3.9 0.9l3.9 0.8l3.9 0.6l4 0.7l3.9 0.5l4 0.5l4 0.5l4 0.3l4 0.3l4 0.3l4 0.2l4 0.3l4 0.2l4 0.1l4 0.2l4 0.1l4 0l4 0l4 0l4 0l4 -0.1l4 0l4 0l4 -0.1l4 0l4 0l4 -0.1l4 0l4 0l4 0l4 0.1l4 0l4 0.2l4 0.1l4 0.1l4 0.2l4 0.2l4 0.1l4 0.2l4 0.3l4 0.3l4 0.3l3.9 0.4l4 0.2l4 0.1l4 0.1l4.1 0l4 0.1l4 0l3.9 -0.1l4 -0.7l3.9 -1l3.8 -1.2l3.7 -1.3l3.7 -1.7l3.6 -2l3.5 -2.1l3.3 -2.2l3.1 -2.3l3.1 -2.5l3 -2.7l2.9 -2.9l2.7 -3l2.7 -3l2.7 -3l2.5 -3l2.5 -3.1l2.4 -3.2l2.3 -3.3l2.3 -3.3l2.2 -3.4l2.2 -3.3l2.2 -3.4l2 -3.4l2.1 -3.5l1.9 -3.4l2 -3.5l1.9 -3.6l1.8 -3.5l1.9 -3.6l1.9 -3.5l1.8 -3.6l1.9 -3.5l1.8 -3.6l1.8 -3.5l1.8 -3.6l1.8 -3.6l1.7 -3.6l1.8 -3.6l1.8 -3.6l1.8 -3.6l1.9 -3.5l1.9 -3.5l2 -3.4l2.1 -3.5l2.1 -3.4l2.1 -3.5l2.1 -3.3l2.3 -3.4l2.2 -3.3l2.4 -3.2l2.4 -3.2l2.5 -3.1l2.6 -3.1l2.6 -3.1l2.8 -3l2.8 -2.8l3 -2.7l3 -2.5l3.2 -2.3l3.4 -2.3l3.5 -2.1l3.7 -1.8l3.7 -1.4l3.8 -0.8l4 -0.8l4 -0.3l4 0.1l4 0.7l3.9 1.1l3.7 1.2l3.6 1.6l3.5 2.1l3.4 2.3l3.2 2.5l3.1 2.4l3 2.6l2.9 2.7l2.8 2.9l2.8 3l2.7 3l2.6 3l2.6 3l2.5 3.1l2.5 3.2l2.3 3.2l2.4 3.3l2.3 3.2l2.4 3.3l2.3 3.2l2.4 3.2l2.4 3.2l2.4 3.3l2.4 3.2l2.4 3.2l2.4 3.2l2.4 3.2l2.5 3.1l2.5 3.1l2.5 3.1l2.6 3.1l2.5 3.1l2.7 3l2.6 3l2.7 3l2.6 3l2.7 3l2.7 2.9l2.8 2.9l2.7 2.9l2.8 2.9l2.9 2.8l2.9 2.7l2.9 2.7l3 2.7l3.1 2.6l3.1 2.5l3.2 2.4l3.2 2.4l3.3 2.3l3.3 2.2l3.5 2l3.5 1.9l3.6 1.8l3.7 1.7l3.6 1.5l3.7 1.5l3.8 1.4l3.8 1.3l3.7 1.4l3.8 1.3l3.8 1.2l3.8 1.2l3.9 1.3l3.8 1.2l3.7 1.3l3.8 1.4l3.7 1.5l3.7 1.5l3.7 1.6l3.6 1.6l3.7 1.7l3.6 1.7l3.6 1.7l3.7 1.6l3.7 1.6l3.7 1.5l3.7 1.4l3.8 1.3l3.8 1.3l3.9 1.3l3.9 0.9l3.9 0.4l3.9 0.2l4 0.2l4 0.1l4 0.1l4 0.1l4.1 0.1l4 0.1l4 0.1l4 0.2l4 0.1l4 0.1l4 0.2l4 0.1l4 0.1l4 0.1l4 0.2l4 0.1l4 0.1" stroke="#ff00ff"/>
</g>
<g class="tl" text-anchor="middle">
<text x="355.0" y="1473.0">0.0</text>
<text x="569.0" y="1473.0">0.1</text>
<text x="783.0" y="1473.0">0.2</text>
<text x="997.0" y="1473.0">0.3</text>
<text x="1211.0" y="1473.0">0.4</text>
<text x="1425.0" y="1473.0">0.5</text>
<text x="1639.0" y="1473.0">0.6</text>
<text x="1853.0" y="1473.0">0.7</text>
<text x="2067.0" y="1473.0">0.8</text>
</g>
<g class="tl" text-anchor="end">
<text x="246.0" y="1311.5">0</text>
<text x="246.0" y="1106.7">5</text>
<text x="246.0" y="901.9">10</text>
<text x="246.0" y="697.1">15</text>
<text x="246.0" y="492.3">20</text>
<text x="246.0" y="287.5">25</text>
<text x="246.0" y="82.7">30</text>
</g>
<text class="al" text-anchor="middle" x="1179.5" y="1596.0">E (V vs. Pseudo Ag/AgCl)</text>
<text class="al" text-anchor="middle" transform="translate(79 707.3) rotate(-90)">I / <tspan dx="13.5">µ</tspan><tspan dx="9.5">A</tspan></text>
<text class="al" style="font-size:76px" x="354.5" y="176.3">A</text>
<rect x="1452.6" y="116.5" width="541.6" height="285.3" fill="#fff" stroke="#4d4d4d" stroke-width="2"/>
<path d="M1475.5 162.5H1636.4" stroke="#ff0000" stroke-width="6.2"/>
<text class="lg" font-size="69.0" x="1650.0" y="186.6">Pt/C</text>
<path d="M1475.5 247.1H1636.4" stroke="#0000ff" stroke-width="6.2"/>
<text class="lg" font-size="69.0" x="1650.0" y="272.6">Pt<tspan font-size="48.3" dy="17.2">80</tspan><tspan dy="-17.2">Ru</tspan><tspan font-size="48.3" dy="17.2">20</tspan><tspan dy="-17.2">/C</tspan></text>
<path d="M1475.5 349.2H1636.4" stroke="#ff00ff" stroke-width="6.2"/>
<text class="lg" font-size="69.0" x="1650.0" y="372.8">Pt<tspan font-size="48.3" dy="17.2">60</tspan><tspan dy="-17.2">Ru</tspan><tspan font-size="48.3" dy="17.2">40</tspan><tspan dy="-17.2">/C</tspan></text>
<rect x="291.6" y="1654.5" width="1774.4" height="1311.0" fill="none" stroke="#000" stroke-width="10"/>
<path d="M359.9 2965.5V2991.5M530.5 2965.5V2991.5M701.1 2965.5V2991.5M871.7 2965.5V2991.5M1042.3 2965.5V2991.5M1212.9 2965.5V2991.5M1383.5 2965.5V2991.5M1554.2 2965.5V2991.5M1724.8 2965.5V2991.5M1895.4 2965.5V2991.5M2066.0 2965.5V2991.5M445.2 2965.5V2979.0M615.8 2965.5V2979.0M786.4 2965.5V2979.0M957.0 2965.5V2979.0M1127.6 2965.5V2979.0M1298.2 2965.5V2979.0M1468.8 2965.5V2979.0M1639.5 2965.5V2979.0M1810.1 2965.5V2979.0M1980.7 2965.5V2979.0M291.6 2965.5H265.6M291.6 2747.0H265.6M291.6 2528.5H265.6M291.6 2310.0H265.6M291.6 2091.5H265.6M291.6 1873.0H265.6M291.6 1654.5H265.6M291.6 2856.2H278.1M291.6 2637.8H278.1M291.6 2419.2H278.1M291.6 2200.8H278.1M291.6 1982.2H278.1M291.6 1763.8H278.1" stroke="#000" stroke-width="10" fill="none"/>
<g fill="none" stroke-width="6.2" stroke-linejoin="round" stroke-linecap="butt">
<path d="M281.3 2744.3l4.3 1.2l3.3 1.9l2.1 2.6l1.6 3.8l1.4 4.1l1.5 3.9l1.3 4l1.4 3.9l1.9 3l3.2 2.1l3.9 1.7l3.3 2.3l3 2.6l3 2.7l2.9 2.7l3.1 2.7l3 2.6l3.1 2.6l3.1 2.5l3.1 2.6l3.1 2.4l3.3 2.3l3.3 2.3l3.4 2.2l3.4 2.1l3.5 2l3.6 1.6l3.7 1.5l3.8 1.4l3.9 1.1l3.9 0.7l3.9 0.6l4 0.5l4 0.2l4 0l4 -0.3l4 -0.5l4 -0.5l3.9 -0.7l3.9 -0.9l3.8 -1.4l3.8 -1.5l3.6 -1.6l3.6 -1.7l3.5 -1.9l3.4 -2.2l3.4 -2.2l3.2 -2.4l3.2 -2.4l3.1 -2.5l3 -2.7l2.9 -2.7l2.9 -2.8l2.8 -2.9l2.7 -2.9l2.7 -3l2.6 -3.1l2.5 -3l2.5 -3.2l2.5 -3.1l2.4 -3.2l2.4 -3.2l2.4 -3.2l2.3 -3.3l2.3 -3.3l2.3 -3.3l2.2 -3.3l2.2 -3.3l2.2 -3.4l2.2 -3.3l2.1 -3.4l2.2 -3.4l2.1 -3.4l2.1 -3.4l2.1 -3.4l2 -3.4l2.1 -3.5l2 -3.4l2 -3.5l2 -3.4l2 -3.5l2 -3.5l2 -3.5l1.9 -3.5l2 -3.5l1.9 -3.5l2 -3.5l1.9 -3.5l1.9 -3.5l1.9 -3.5l1.9 -3.5l1.9 -3.6l1.9 -3.5l1.8 -3.5l1.9 -3.6l1.8 -3.5l1.9 -3.6l1.8 -3.5l1.9 -3.6l1.8 -3.5l1.8 -3.6l1.9 -3.5l1.8 -3.6l1.8 -3.6l1.8 -3.5l1.8 -3.6l1.8 -3.6l1.8 -3.6l1.8 -3.5l1.8 -3.6l1.8 -3.6l1.7 -3.6l1.8 -3.6l1.8 -3.6l1.7 -3.6l1.8 -3.6l1.8 -3.6l1.7 -3.5l1.8 -3.6l1.8 -3.6l1.8 -3.6l1.8 -3.6l1.7 -3.6l1.9 -3.5l1.8 -3.6l1.8 -3.5l1.9 -3.6l1.9 -3.5l1.8 -3.6l1.9 -3.5l1.9 -3.5l2 -3.5l2 -3.5l2 -3.4l2 -3.5l2.1 -3.4l2.1 -3.4l2.1 -3.4l2.2 -3.4l2.2 -3.3l2.3 -3.3l2.3 -3.2l2.4 -3.3l2.4 -3.2l2.4 -3.2l2.5 -3.1l2.6 -3.1l2.6 -3l2.6 -3l2.8 -2.9l2.8 -2.9l2.8 -2.8l3 -2.8l3 -2.6l3.1 -2.5l3.1 -2.5l3.3 -2.3l3.4 -2.2l3.4 -2.1l3.5 -1.8l3.6 -1.9l3.7 -1.6l3.8 -1.3l3.8 -0.9l4 -0.8l4 -0.7l4 -0.4l3.9 -0.1l4 0.4l4 0.7l4 0.9l3.8 1.1l3.6 1.4l3.7 1.8l3.5 2.2l3.3 2.2l3.1 2.3l3.1 2.7l2.9 2.7l2.8 2.9l2.8 2.9l2.6 3l2.5 3.2l2.4 3.1l2.4 3.3l2.4 3.2l2.3 3.3l2.3 3.2l2.3 3.3l2.2 3.3l2.3 3.4l2.1 3.3l2.2 3.4l2.1 3.4l2.2 3.4l2 3.4l2.1 3.4l2.1 3.5l2 3.4l2 3.5l2 3.5l1.9 3.4l2 3.5l1.9 3.5l1.9 3.6l1.9 3.5l1.9 3.5l1.9 3.6l1.8 3.5l1.8 3.6l1.8 3.5l1.8 3.6l1.8 3.6l1.7 3.6l1.7 3.6l1.8 3.6l1.7 3.7l1.7 3.6l1.8 3.6l1.7 3.6l1.7 3.6l1.8 3.6l1.7 3.6l1.7 3.6l1.7 3.6l1.7 3.6l1.8 3.7l1.7 3.6l1.8 3.6l1.7 3.6l1.8 3.6l1.7 3.5l1.8 3.6l1.8 3.6l1.8 3.6l1.8 3.6l1.8 3.5l1.9 3.6l1.9 3.5l1.9 3.5l1.9 3.5l1.9 3.6l1.9 3.5l2 3.5l2 3.4l2.1 3.4l2.1 3.5l2.1 3.3l2.2 3.4l2.2 3.3l2.3 3.4l2.3 3.3l2.3 3.3l2.4 3.2l2.6 3.1l2.6 2.9l2.7 2.9l2.8 3l3 2.8l3 2.7l3.2 2.4l3.4 2.1l3.5 1.7l3.9 1.7l3.9 1.1l3.7 0.2l3.6 -1.4l3.6 -2.4l3.2 -2.6l2.8 -2.6l2.8 -2.9l2.5 -3.2l2.4 -3.4l2.2 -3.4l2.1 -3.5l1.8 -3.4l1.7 -3.6l1.6 -3.6l1.5 -3.8l1.4 -3.7l1.4 -3.8l1.3 -3.9l1.3 -3.8l1.2 -3.8l1.3 -3.8l1.2 -3.8l1.1 -3.9l1.1 -3.8l1.1 -3.9l1.1 -3.8l1 -3.9l1 -3.9l1 -3.9l1 -3.8l1 -3.9l1 -3.9l0.9 -3.9l1 -3.9l0.9 -3.9l0.9 -3.9l0.9 -3.9l0.9 -3.9l0.9 -3.9l0.9 -3.9l0.8 -3.9l0.9 -3.9l0.9 -3.9l0.8 -3.9l0.8 -3.9l0.9 -3.9l0.8 -3.9l0.8 -4l0.8 -3.9l0.9 -3.9l0.8 -3.9l0.8 -3.9l0.7 -4l0.8 -3.9l0.8 -3.9l0.8 -3.9l0.7 -4l0.8 -3.9l0.8 -3.9l0.8 -3.9l0.8 -4l0.8 -3.9l0.8 -3.9l0.8 -3.9l0.7 -4l0.8 -3.9l0.8 -3.9l0.8 -3.9l0.8 -4l0.9 -3.9l0.8 -3.9l0.9 -3.9l1 -3.8l1 -3.9l1 -3.9l1 -3.8l1.1 -3.9l1.1 -3.8l1.2 -3.9l1.2 -3.8l1.2 -3.8l1.2 -3.9l1.2 -3.8l1.2 -3.9l1.1 -4l1.2 -3.9l1.4 -3.8l1.5 -3.6l1.8 -3.3l2.4 -3.6l3 -3.5l3.2 -2.4l3.2 -0.4l3.5 2.1l3.1 3l2.3 2.9l2.1 3.4l1.8 3.7l1.6 3.9l1.5 3.8l1.4 3.7l1.3 3.8l1.2 3.8l1.2 3.8l1.1 3.9l1 3.8l1.1 3.9l1 3.9l1 3.9l1.1 3.8l1 3.9l0.9 3.9l1 3.9l0.9 3.9l0.9 3.9l0.9 3.9l1 3.9l0.9 3.9l1 3.8l0.9 3.9l1 3.9l0.9 3.9l0.9 3.9l1 3.9l0.9 3.9l1 3.9l1 3.8l1 3.9l1 3.9l1.1 3.8l1 3.9l1.1 3.9l1.1 3.8l1.1 3.9l1.1 3.8l1.1 3.8l1.2 3.9l1.1 3.8l1.2 3.8l1.3 3.8l1.2 3.8l1.3 3.8l1.2 3.8l1.3 3.8l1.4 3.8l1.3 3.7l1.4 3.8l1.4 3.8l1.4 3.7l1.5 3.7l1.4 3.7l1.6 3.7l1.5 3.7l1.6 3.7l1.6 3.7l1.6 3.6l1.7 3.7l1.6 3.6l1.7 3.7l1.8 3.6l1.7 3.6l1.8 3.5l1.8 3.6l1.8 3.6l1.9 3.5l1.8 3.6l2 3.5l1.9 3.5l2 3.5l2 3.4l2 3.5l2 3.4l2.1 3.5l2.1 3.4l2.1 3.4l2.2 3.4l2.1 3.3l2.3 3.4l2.3 3.3l2.3 3.2l2.4 3.2l2.5 3.1l2.5 3.1l2.6 3.1l2.7 3.1l2.7 2.9l2.8 2.9l2.9 2.7l3 2.5l3.1 2.6l3.3 2.4l3.3 2.3l3.5 2.1l3.5 1.8l3.6 1.6l3.7 1.5l3.9 1.4l3.8 1.1l3.9 0.8l3.9 0.6l4 0.6l4 0.4l4 0.3l4 0.1l4 -0.2l4 -0.3l4 -0.3l4 -0.5l3.9 -0.5l4 -0.7l3.9 -0.9l3.9 -1l3.9 -1l3.9 -0.9l3.8 -1.1l3.9 -1l3.9 -1l3.9 -0.9l3.9 -0.8l3.9 -0.9l4 -0.8l3.9 -0.5l4 -0.4l4 -0.1l4 -0.2l4 -0.1l4 0l4 -0.1l4 0.1l4 0.2l4 0.3l3.9 0.4l4 0.5l4 0.4l4 0.3l4 0.4l4 0.5l4 0.4l3.9 0.3l4 0.2l4 0l4 0l4 -0.1l4 0l4 -0.1l4.1 -0.1l4 -0.1l4 -0.1l3.9 -0.1l4 -0.3l4 -0.3l4 -0.4l4 -0.5l4 -0.4l3.9 -0.5l4 -0.4l4 -0.4l4 -0.4l4 -0.4l4 -0.4l3.9 -0.4l4 -0.4l4 -0.3l4 -0.3l4 -0.2l4 -0.3l4 -0.2l4 -0.2l4 -0.3l4 -0.2l4 -0.3l4 -0.2l4 -0.3l3.9 -0.3l4 -0.2l4 -0.2l4 0l4 -0.1l4 0l4 0l4 0l4 0l4 0l4 0l4 0l4 0.2l4 0.2l4 0.4l4 0.3l4 0.4l4 0.3l4 0.3l4 0.4l4 0.3l3.9 0.4l4 0.4l4 0.3l4 0.3l4 0.3l4 0.2l4 0.2l4 0.3l4 0.2l4 0.1l4 0.2l4 0.2l4 0.1l4 0.2l4 0.2l4 0.1l4 0.1l4 0.2l4 0.1l4 0.1l4 0.1l4 0.1l4 0.1l4 0.1l4 0.1l4 0.1l4 0.1l4 0l4 0.1l4 0.1l4 0l4 0.1l4 0l4 0.1l4 0l4 0.1l4 0l4 0.1l4 0l4 0l4 0.1l4 0l4 0.1l4 0l4 0l4 0.1l4 0l4 0.1l4 0l4 0.1l4 0l4 0.1l4 0l4 0.1l4 0l4 0.1l4 0l4 0.1l4 0.1l4 0l4 0.1l4 0l4 0.1l4 0.1l4 0l4 0.1l4 0.1l4 0l4 0.1l4 0l4 0.1l4 0.1l4 0l4 0.1l4 0l4 0.1l4 0.1l4 0l4 0.1l4 0.1l4 0l4 0l4 0l4 0l4 -0.1l4 0l4 -0.1l4 0l4.1 -0.1l4 -0.1l4 -0.2l3.9 -0.2l4 -0.4l4 -0.5l4 -0.5l3.9 -0.6l4 -0.7l4 -0.5l3.9 -0.1l4.1 0.1l4 0l4 0l4.1 0.2l4.4 0.8l3.7 1.2l2.2 1.6l1.7 3l1.4 3.9l1.2 4.5l1.2 4.5l1.2 4l1.3 3.8l1.2 3.8l1.2 3.8l1.2 3.8l1.2 3.9l1.2 3.8l1.1 3.8l1.1 3.9l1.2 3.8l1.1 3.9l1.1 3.8l1.1 3.8l1.1 3.9l1.1 3.9l1.1 3.8l1 3.9l1.1 3.8l1 3.9" stroke="#ff0000"/>
<path d="M284.0 2758.5l1 4.1l1.5 3.9l1.8 3.6l2 3.3l2.3 2.9l3 2.7l3.3 2.4l3.3 2.4l3.3 2.3l3.4 2.2l3.4 2.1l3.5 2l3.5 1.9l3.5 1.8l3.7 1.7l3.7 1.4l3.8 1.4l3.8 1.2l3.9 0.9l4 0.7l4 0.4l3.9 0l4.1 -0.2l3.9 -0.3l4 -0.6l3.9 -0.8l3.9 -1l3.9 -1l3.8 -1.3l3.7 -1.6l3.6 -1.6l3.6 -1.8l3.4 -2l3.5 -2.2l3.4 -2.1l3.4 -2.1l3.4 -2.1l3.3 -2.1l3.4 -2.2l3.4 -2.2l3.3 -2.2l3.3 -2.3l3.2 -2.3l3.3 -2.4l3.2 -2.4l3.1 -2.5l3 -2.6l2.9 -2.8l2.7 -2.9l2.6 -3.1l2.5 -3.2l2.4 -3.2l2.2 -3.3l2.2 -3.4l2.1 -3.4l2 -3.4l2.1 -3.5l2 -3.4l2.1 -3.5l2 -3.4l2 -3.5l2 -3.4l2 -3.5l2.1 -3.4l2.1 -3.4l2.1 -3.4l2 -3.5l2.1 -3.4l2 -3.4l2.1 -3.5l2 -3.5l1.9 -3.4l1.9 -3.6l1.9 -3.5l1.8 -3.6l1.8 -3.6l1.7 -3.6l1.7 -3.6l1.7 -3.6l1.6 -3.7l1.6 -3.6l1.7 -3.7l1.5 -3.7l1.6 -3.7l1.6 -3.7l1.5 -3.6l1.6 -3.7l1.5 -3.7l1.6 -3.7l1.5 -3.7l1.5 -3.7l1.5 -3.8l1.5 -3.7l1.5 -3.7l1.5 -3.7l1.5 -3.7l1.5 -3.7l1.6 -3.7l1.5 -3.7l1.6 -3.7l1.5 -3.6l1.6 -3.7l1.6 -3.7l1.6 -3.7l1.6 -3.7l1.5 -3.6l1.6 -3.7l1.6 -3.7l1.6 -3.7l1.5 -3.7l1.6 -3.6l1.6 -3.7l1.6 -3.7l1.6 -3.7l1.5 -3.7l1.6 -3.6l1.6 -3.7l1.5 -3.7l1.6 -3.7l1.5 -3.7l1.6 -3.7l1.5 -3.7l1.6 -3.6l1.5 -3.7l1.6 -3.7l1.5 -3.7l1.6 -3.7l1.5 -3.7l1.6 -3.7l1.5 -3.7l1.6 -3.7l1.6 -3.6l1.6 -3.7l1.7 -3.6l1.6 -3.7l1.7 -3.6l1.6 -3.7l1.7 -3.6l1.8 -3.6l1.7 -3.6l1.9 -3.6l1.8 -3.5l1.9 -3.5l1.9 -3.6l2 -3.5l2.1 -3.4l2.1 -3.4l2.2 -3.4l2.2 -3.2l2.4 -3.2l2.5 -3.2l2.5 -3.2l2.7 -3l2.7 -2.9l2.8 -2.8l2.9 -2.8l3.1 -2.6l3.1 -2.6l3.3 -2.4l3.4 -2l3.5 -1.9l3.7 -1.8l3.8 -1.6l3.8 -1.1l3.9 -0.2l4.1 0l4 0.1l4.1 0l3.8 0.2l3.8 1.2l3.7 1.9l3.5 2.3l3.3 2.2l3.1 2.4l3 2.7l2.9 2.8l2.8 3l2.6 3l2.6 3l2.4 3.2l2.4 3.2l2.3 3.3l2.3 3.4l2.2 3.3l2.1 3.4l2.1 3.4l2.1 3.4l2 3.5l2 3.5l1.9 3.5l1.9 3.5l1.8 3.6l1.7 3.6l1.8 3.6l1.7 3.6l1.6 3.6l1.7 3.7l1.6 3.7l1.6 3.6l1.6 3.7l1.5 3.7l1.6 3.7l1.5 3.7l1.5 3.7l1.5 3.7l1.4 3.7l1.5 3.8l1.5 3.7l1.4 3.7l1.5 3.8l1.4 3.7l1.4 3.7l1.4 3.8l1.4 3.7l1.4 3.8l1.5 3.7l1.4 3.8l1.4 3.7l1.4 3.8l1.4 3.7l1.4 3.8l1.4 3.7l1.4 3.8l1.4 3.7l1.4 3.8l1.4 3.7l1.5 3.7l1.4 3.8l1.5 3.7l1.5 3.7l1.5 3.7l1.5 3.7l1.6 3.7l1.5 3.7l1.6 3.7l1.5 3.7l1.6 3.6l1.6 3.7l1.7 3.7l1.6 3.6l1.7 3.6l1.7 3.7l1.7 3.6l1.7 3.6l1.8 3.6l1.7 3.6l1.8 3.6l1.8 3.6l1.8 3.6l1.9 3.5l1.9 3.5l1.9 3.5l1.9 3.6l2 3.5l2 3.5l2 3.4l2.1 3.4l2.1 3.4l2.2 3.3l2.3 3.3l2.4 3.2l2.4 3.2l2.5 3.2l2.7 3.1l2.7 2.9l2.8 2.8l3 2.6l3.2 2.5l3.4 2.2l3.5 1.9l3.8 1.7l3.5 0l3.1 -2.5l2.9 -3.5l2.4 -3.2l2.3 -3.2l2.2 -3.4l2 -3.6l1.8 -3.6l1.8 -3.6l1.5 -3.7l1.5 -3.7l1.4 -3.7l1.2 -3.8l1.2 -3.8l1.2 -3.9l1.1 -3.9l1.1 -3.8l1 -3.9l1.1 -3.9l1 -3.8l0.9 -3.9l1 -3.9l0.9 -3.9l0.8 -3.9l0.9 -4l0.8 -3.9l0.9 -3.9l0.8 -3.9l0.8 -3.9l0.8 -3.9l0.8 -4l0.7 -3.9l0.8 -3.9l0.7 -4l0.7 -3.9l0.7 -3.9l0.7 -4l0.7 -3.9l0.7 -4l0.6 -3.9l0.6 -4l0.6 -3.9l0.7 -4l0.5 -4l0.6 -3.9l0.6 -4l0.6 -3.9l0.5 -4l0.6 -4l0.5 -3.9l0.6 -4l0.5 -4l0.5 -3.9l0.5 -4l0.5 -4l0.5 -3.9l0.5 -4l0.5 -4l0.5 -4l0.4 -3.9l0.5 -4l0.4 -4l0.5 -4l0.4 -4l0.5 -3.9l0.4 -4l0.4 -4l0.4 -4l0.5 -4l0.4 -3.9l0.4 -4l0.4 -4l0.4 -4l0.4 -4l0.4 -3.9l0.4 -4l0.4 -4l0.4 -4l0.4 -4l0.4 -4l0.4 -3.9l0.4 -4l0.3 -4l0.4 -4l0.4 -4l0.4 -4l0.3 -4l0.4 -3.9l0.3 -4l0.4 -4l0.4 -4l0.3 -4l0.4 -4l0.3 -4l0.4 -4l0.3 -3.9l0.4 -4l0.3 -4l0.3 -4l0.4 -4l0.3 -4l0.4 -4l0.3 -4l0.3 -3.9l0.4 -4l0.3 -4l0.3 -4l0.3 -4l0.4 -4l0.3 -4l0.3 -4l0.3 -4l0.4 -4l0.3 -3.9l0.3 -4l0.3 -4l0.3 -4l0.3 -4l0.4 -4l0.3 -4l0.3 -4l0.3 -4l0.3 -4l0.3 -3.9l0.3 -4l0.3 -4l0.3 -4l0.4 -4l0.3 -4l0.3 -4l0.3 -4l0.3 -4l0.3 -4l0.3 -4l0.3 -3.9l0.3 -4l0.3 -4l0.3 -4l0.4 -4l0.3 -4l0.3 -4l0.3 -4l0.3 -4l0.3 -4l0.4 -3.9l0.3 -4l0.3 -4l0.3 -4l0.4 -4l0.3 -4l0.3 -4l0.4 -4l0.3 -4l0.3 -3.9l0.4 -4l0.3 -4l0.4 -4l0.4 -4l0.3 -4l0.4 -4l0.4 -4l0.3 -3.9l0.4 -4l0.4 -4l0.4 -4l0.4 -4l0.4 -4l0.4 -3.9l0.4 -4l0.4 -4l0.4 -4l0.4 -4l0.4 -4l0.4 -3.9l0.4 -4l0.4 -4l0.5 -4l0.4 -4l0.4 -3.9l0.4 -4l0.5 -4l0.4 -4l0.4 -4l0.5 -3.9l0.4 -4l0.5 -4l0.4 -4l0.5 -3.9l0.5 -4l0.4 -4l0.5 -4l0.5 -3.9l0.4 -4l0.5 -4l0.5 -4l0.5 -3.9l0.5 -4l0.5 -4l0.5 -4l0.6 -3.9l0.5 -4l0.5 -3.9l0.6 -4l0.6 -4l0.5 -3.9l0.6 -4l0.5 -4l0.6 -4l0.6 -3.9l0.6 -4l0.7 -3.9l0.6 -4l0.7 -3.9l0.8 -3.9l0.7 -4l0.8 -3.9l0.8 -4.3l0.8 -4.4l0.9 -4.4l0.9 -4.3l1.2 -3.9l1.3 -3.4l1.6 -2.8l2.7 -2.1l4.5 -1.8l2.9 -0.6l1.5 1.2l1.3 2.7l1 3.9l0.9 4.6l0.8 5.1l0.7 5.1l0.6 4.9l0.8 4.3l0.7 3.9l0.6 4l0.6 3.9l0.6 4l0.6 3.9l0.6 4l0.6 4l0.6 3.9l0.6 4l0.6 3.9l0.6 4l0.6 4l0.5 3.9l0.5 4l0.5 4l0.5 3.9l0.4 4l0.5 4l0.4 4l0.5 4l0.4 3.9l0.5 4l0.4 4l0.5 4l0.4 3.9l0.5 4l0.4 4l0.4 4l0.5 4l0.4 3.9l0.4 4l0.4 4l0.5 4l0.4 4l0.4 3.9l0.4 4l0.4 4l0.4 4l0.4 4l0.4 3.9l0.4 4l0.4 4l0.4 4l0.4 4l0.4 4l0.4 3.9l0.4 4l0.4 4l0.4 4l0.4 4l0.4 4l0.4 3.9l0.4 4l0.4 4l0.4 4l0.4 4l0.4 4l0.4 3.9l0.4 4l0.4 4l0.4 4l0.4 4l0.3 4l0.4 3.9l0.4 4l0.4 4l0.4 4l0.4 4l0.4 4l0.4 3.9l0.4 4l0.4 4l0.4 4l0.4 4l0.4 4l0.4 3.9l0.4 4l0.4 4l0.4 4l0.4 4l0.4 3.9l0.4 4l0.4 4l0.4 4l0.5 4l0.4 4l0.4 3.9l0.4 4l0.4 4l0.4 4l0.4 4l0.4 3.9l0.4 4l0.5 4l0.4 4l0.4 4l0.4 4l0.4 3.9l0.5 4l0.4 4l0.4 4l0.5 4l0.4 3.9l0.4 4l0.5 4l0.4 4l0.4 3.9l0.5 4l0.4 4l0.5 4l0.4 4l0.4 3.9l0.5 4l0.4 4l0.5 4l0.5 3.9l0.4 4l0.5 4l0.5 4l0.4 3.9l0.5 4l0.5 4l0.5 4l0.5 3.9l0.5 4l0.5 4l0.5 4l0.5 3.9l0.5 4l0.5 4l0.5 3.9l0.5 4l0.5 4l0.6 3.9l0.5 4l0.5 4l0.6 3.9l0.5 4l0.6 4l0.5 3.9l0.6 4l0.5 4l0.6 3.9l0.5 4l0.6 4l0.6 3.9l0.6 4l0.6 3.9l0.6 4l0.6 3.9l0.6 4l0.6 4l0.6 3.9l0.6 4l0.7 3.9l0.6 4l0.7 3.9l0.6 4l0.7 3.9l0.7 4l0.7 3.9l0.7 3.9l0.7 4l0.7 3.9l0.7 4l0.8 3.9l0.8 3.9l0.7 3.9l0.8 4l0.8 3.9l0.9 3.9l0.8 3.9l0.9 3.9l0.8 3.9l0.9 3.9l0.9 3.9l0.9 3.9l0.9 3.9l0.9 3.9l1 3.9l1 3.9l1 3.9l1 3.9l1 3.8l1 3.9l1.1 3.9l1.1 3.8l1 3.9l1.2 3.8l1.1 3.8l1.1 3.9l1.2 3.8l1.2 3.8l1.2 3.9l1.1 3.8l1.2 3.8l1.2 3.8l1.3 3.9l1.2 3.8l1.3 3.8l1.2 3.8l1.4 3.8l1.3 3.7l1.4 3.7l1.5 3.8l1.5 3.7l1.5 3.7l1.6 3.7l1.6 3.7l1.7 3.6l1.8 3.6l1.8 3.6l1.8 3.5l2 3.5l2 3.4l2.2 3.4l2.2 3.4l2.3 3.3l2.5 3.2l2.6 2.9l2.7 2.9l3 2.8l3.1 2.6l3.2 2.3l3.4 2.2l3.5 1.9l3.6 1.8l3.7 1.6l3.7 1.3l3.8 1.2l3.9 1.1l3.9 1l3.9 1l3.8 1.1l3.9 1l3.9 1l3.9 1l3.8 1.2l3.8 1.3l3.7 1.4l3.7 1.6l3.6 1.7l3.7 1.7l3.5 1.8l3.5 1.9l3.5 2l3.4 2.1l3.5 2l3.5 1.9l3.6 1.9l3.5 2l3.6 1.9l3.7 1.5l3.7 1l4 0.9l4 0.8l4 0.4l3.9 0l3.9 -0.9l3.8 -1.6l3.6 -1.7l3.4 -1.9l3.3 -2.3l3.1 -2.6l3 -2.8l3 -2.8l2.8 -2.7l2.8 -2.9l2.7 -3l2.7 -3l2.7 -2.9l2.7 -2.9l2.9 -2.9l2.8 -2.8l2.9 -2.7l3 -2.8l2.9 -2.6l3 -2.7l3 -2.6l3.1 -2.6l3.1 -2.6l3.1 -2.5l3.2 -2.4l3.3 -2.3l3.3 -2.3l3.3 -2.3l3.5 -2l3.5 -1.8l3.6 -1.7l3.8 -1.5l3.8 -1.4l3.9 -0.9l3.9 -0.5l4 -0.3l4 -0.3l4 0l4 0.2l4 0.7l3.9 0.8l3.9 0.9l3.8 1.2l3.8 1.4l3.7 1.5l3.7 1.5l3.6 1.7l3.6 1.8l3.6 1.8l3.6 1.8l3.6 1.7l3.7 1.6l3.7 1.6l3.7 1.6l3.7 1.4l3.7 1.5l3.8 1.3l3.8 1.3l3.8 1.1l3.9 1l3.9 0.9l3.9 0.8l3.9 0.8l4 0.7l3.9 0.6l4 0.7l3.9 0.7l4 0.6l3.9 0.7l4 0.6l3.9 0.7l4 0.7l3.9 0.7l3.9 0.8l4 0.8l3.9 0.8l3.9 0.8l3.9 0.8l4 0.7l3.9 0.7l4 0.7l3.9 0.5l4 0.5l4 0.5l3.9 0.4l4 0.4l4 0.4l4 0.2l4 0.3l4 0.2l4 0.2l4 0.2l4 0.2l4 0.1l4 0.2l4 0.1l4 0l4 0.1l4 0.1l4 0l4 0.1l4 0l4 0.1l4 0l4 0l4 0.1l4 0l4 0l4 0l4 0l4 0l4 0l4 0l4 0l4 0l4.1 0l4 0l4 0l4 0l4 0l4 0l4 0l4 0l4 0l4 0l4 0l4 0.1l4 0l4 0l4 0l4 0.1l4 0l4 0l4 0.1l4 0l4 0l4 0.1l4 0l4 0.1l4 0.1l4 0.1l4 0.1l4 0.1l4 0.1l4 0.1l4 0.2l4 0.1l4 0.1l4 0.2l4 0.1l4 0.2l4 0.1l4 0.1l4 0.2l4 0.1l4 0.2l4 0.1l4 0.2l4 0.1l4 0.2l4 0.1l4 0.2l4 0.2l4 0.2l4 0.2l4 0.2l4 0.1l4 0.1l4 -0.1l4.1 0l4.2 -0.1l4.1 -0.1l4 -0.2l3.9 -0.1l3.8 0l3.5 1.3l3.3 2.8l3.7 0.9l4.2 0.2l3.8 0.3l3.3 1.8l3 3l3 3l3.1 2.5l3.1 2.5l3.2 2.4l3.3 2.3l3.3 2.3l3.3 2.2l3.5 2.1l3.4 2.2l3.5 2.3l3.7 1.2l3.8 -0.5l4 -1l3.9 -0.7l4 -0.5l4 -0.4" stroke="#0000ff"/>
<path d="M282.4 2753.9l4.3 -0.2l3.9 -0.7l3.5 -0.9l2.9 -2.1l2.6 -3.2l2.6 -3.6l2.7 -3.3l2.9 -2.7l3 -2.6l3.1 -2.6l3.1 -2.5l3.1 -2.5l3.1 -2.5l3.1 -2.6l3 -2.6l3.1 -2.6l3 -2.6l3 -2.6l3.1 -2.7l3 -2.6l3 -2.6l3 -2.7l3 -2.7l2.8 -2.8l2.8 -2.8l2.7 -3l2.5 -3.1l2.5 -3.1l2.5 -3.2l2.4 -3.2l2.3 -3.2l2.3 -3.3l2.2 -3.4l2.2 -3.3l2.2 -3.4l2.2 -3.3l2.1 -3.4l2.1 -3.4l2.1 -3.4l2.1 -3.4l2.1 -3.4l2.1 -3.5l2.1 -3.4l2 -3.4l2.1 -3.4l2.1 -3.4l2 -3.5l2.1 -3.4l2 -3.4l2.1 -3.5l2 -3.4l2 -3.5l2 -3.4l2 -3.5l2 -3.5l2 -3.5l2 -3.4l1.9 -3.5l2 -3.5l1.9 -3.5l1.9 -3.5l1.9 -3.5l1.9 -3.6l1.9 -3.5l1.8 -3.6l1.9 -3.5l1.8 -3.6l1.8 -3.5l1.8 -3.6l1.8 -3.6l1.8 -3.6l1.7 -3.6l1.8 -3.6l1.7 -3.6l1.7 -3.6l1.7 -3.6l1.7 -3.6l1.7 -3.7l1.6 -3.6l1.7 -3.7l1.6 -3.6l1.7 -3.7l1.6 -3.6l1.6 -3.7l1.6 -3.6l1.6 -3.7l1.6 -3.7l1.6 -3.6l1.6 -3.7l1.5 -3.7l1.6 -3.7l1.5 -3.7l1.6 -3.7l1.5 -3.7l1.5 -3.7l1.5 -3.7l1.5 -3.7l1.5 -3.7l1.5 -3.7l1.5 -3.7l1.5 -3.7l1.4 -3.8l1.5 -3.7l1.4 -3.7l1.5 -3.8l1.4 -3.7l1.4 -3.7l1.5 -3.8l1.4 -3.7l1.4 -3.8l1.3 -3.7l1.4 -3.8l1.4 -3.7l1.3 -3.8l1.4 -3.8l1.3 -3.7l1.4 -3.8l1.3 -3.8l1.4 -3.7l1.3 -3.8l1.4 -3.8l1.3 -3.7l1.4 -3.8l1.3 -3.8l1.4 -3.7l1.3 -3.8l1.3 -3.8l1.4 -3.7l1.3 -3.8l1.3 -3.8l1.4 -3.8l1.3 -3.7l1.3 -3.8l1.4 -3.8l1.3 -3.8l1.3 -3.7l1.3 -3.8l1.4 -3.8l1.3 -3.8l1.3 -3.7l1.3 -3.8l1.3 -3.8l1.4 -3.8l1.3 -3.7l1.3 -3.8l1.3 -3.8l1.3 -3.8l1.3 -3.8l1.3 -3.8l1.3 -3.7l1.3 -3.8l1.3 -3.8l1.3 -3.8l1.3 -3.8l1.3 -3.8l1.3 -3.7l1.3 -3.8l1.3 -3.8l1.3 -3.8l1.3 -3.8l1.4 -3.7l1.3 -3.8l1.3 -3.8l1.3 -3.8l1.3 -3.7l1.3 -3.8l1.4 -3.8l1.3 -3.8l1.4 -3.7l1.3 -3.8l1.4 -3.7l1.4 -3.8l1.4 -3.7l1.4 -3.8l1.4 -3.7l1.4 -3.8l1.4 -3.7l1.4 -3.8l1.5 -3.7l1.4 -3.7l1.5 -3.8l1.4 -3.7l1.5 -3.7l1.5 -3.7l1.5 -3.7l1.5 -3.7l1.5 -3.7l1.5 -3.7l1.6 -3.7l1.5 -3.7l1.6 -3.7l1.5 -3.7l1.6 -3.7l1.6 -3.6l1.6 -3.7l1.6 -3.6l1.7 -3.7l1.6 -3.7l1.6 -3.6l1.7 -3.7l1.6 -3.6l1.7 -3.7l1.8 -3.6l1.7 -3.6l1.8 -3.5l1.9 -3.6l1.9 -3.5l1.9 -3.5l1.9 -3.6l2 -3.5l2 -3.5l2.1 -3.5l2.1 -3.4l2.3 -3.3l2.3 -3.2l2.4 -3l2.6 -3.1l2.7 -3.2l2.8 -3l3 -2.8l3.2 -2.4l3.2 -1.8l3.7 -1.8l3.9 -1.5l3.9 -1l3.8 -0.2l3.7 1l3.8 1.9l3.5 2.4l3.4 2.6l2.9 2.4l2.7 2.7l2.5 3l2.4 3.3l2.3 3.4l2.1 3.6l2.1 3.6l1.9 3.6l1.9 3.4l1.8 3.6l1.7 3.6l1.7 3.6l1.6 3.7l1.5 3.7l1.5 3.7l1.5 3.8l1.4 3.8l1.4 3.7l1.3 3.8l1.4 3.8l1.2 3.7l1.3 3.8l1.2 3.8l1.1 3.9l1.2 3.8l1.1 3.9l1.1 3.8l1.1 3.9l1.1 3.8l1 3.9l1.1 3.8l1.1 3.9l1 3.9l1.1 3.8l1 3.9l1.1 3.8l1 3.9l1 3.9l1 3.8l1 3.9l1 3.9l1 3.9l1 3.8l1.1 3.9l1 3.9l1 3.8l1 3.9l1.1 3.9l1 3.8l1 3.9l1.1 3.9l1 3.8l1.1 3.9l1 3.9l1.1 3.8l1 3.9l1 3.8l1.1 3.9l1 3.9l1.1 3.8l1 3.9l1.1 3.8l1 3.9l1.1 3.9l1 3.8l1 3.9l1.1 3.9l1 3.8l1.1 3.9l1 3.8l1.1 3.9l1 3.9l1 3.8l1.1 3.9l1 3.9l1 3.8l1.1 3.9l1 3.9l1 3.8l1.1 3.9l1 3.9l1 3.8l1.1 3.9l1 3.8l1 3.9l1.1 3.9l1 3.8l1.1 3.9l1 3.9l1 3.8l1.1 3.9l1 3.9l1 3.8l1.1 3.9l1 3.8l1.1 3.9l1 3.9l1.1 3.8l1.1 3.9l1.1 3.8l1.1 3.9l1.1 3.8l1.1 3.8l1.2 3.9l1.1 3.8l1.2 3.8l1.2 3.9l1.1 3.8l1.2 3.8l1.2 3.8l1.3 3.8l1.2 3.8l1.3 3.8l1.2 3.8l1.3 3.8l1.3 3.8l1.3 3.8l1.3 3.8l1.3 3.8l1.4 3.7l1.3 3.8l1.4 3.7l1.5 3.8l1.4 3.7l1.5 3.7l1.5 3.7l1.6 3.7l1.6 3.7l1.6 3.7l1.6 3.6l1.7 3.6l1.8 3.6l1.8 3.6l1.9 3.5l1.9 3.5l2.1 3.5l2.1 3.4l2.2 3.3l2.4 3.2l2.4 3.2l2.7 3.2l2.9 2.8l3.2 2l3.9 1.5l3.8 0.1l3.9 -1.7l3.2 -2.1l2.8 -2.7l2.5 -3.3l2.4 -3.5l2 -3.4l1.9 -3.5l1.8 -3.6l1.6 -3.7l1.5 -3.7l1.4 -3.8l1.3 -3.8l1.3 -3.8l1.2 -3.7l1.2 -3.9l1.1 -3.8l1.1 -3.9l1.1 -3.8l1 -3.9l0.9 -3.9l1 -3.9l0.9 -3.9l0.8 -3.9l0.9 -3.9l0.8 -3.9l0.8 -3.9l0.8 -4l0.7 -3.9l0.7 -3.9l0.7 -4l0.7 -3.9l0.7 -4l0.7 -3.9l0.7 -4l0.7 -3.9l0.7 -3.9l0.6 -4l0.7 -3.9l0.7 -4l0.6 -3.9l0.7 -4l0.6 -3.9l0.7 -4l0.6 -3.9l0.6 -4l0.6 -3.9l0.7 -4l0.6 -3.9l0.6 -4l0.6 -3.9l0.6 -4l0.7 -3.9l0.6 -4l0.6 -3.9l0.6 -4l0.6 -4l0.6 -3.9l0.6 -4l0.6 -3.9l0.6 -4l0.6 -3.9l0.6 -4l0.6 -3.9l0.5 -4l0.6 -4l0.5 -3.9l0.6 -4l0.5 -4l0.5 -3.9l0.6 -4l0.5 -4l0.5 -3.9l0.5 -4l0.5 -4l0.5 -3.9l0.5 -4l0.5 -4l0.5 -3.9l0.4 -4l0.5 -4l0.5 -4l0.5 -3.9l0.5 -4l0.4 -4l0.5 -3.9l0.4 -4l0.5 -4l0.5 -4l0.4 -3.9l0.5 -4l0.4 -4l0.5 -4l0.4 -3.9l0.5 -4l0.5 -4l0.4 -4l0.5 -3.9l0.4 -4l0.5 -4l0.4 -4l0.5 -3.9l0.5 -4l0.4 -4l0.5 -4l0.4 -3.9l0.5 -4l0.5 -4l0.4 -4l0.5 -3.9l0.5 -4l0.4 -4l0.5 -3.9l0.5 -4l0.5 -4l0.5 -4l0.5 -3.9l0.5 -4l0.5 -4l0.5 -3.9l0.5 -4l0.5 -4l0.5 -3.9l0.5 -4l0.6 -4l0.5 -3.9l0.5 -4l0.5 -4l0.6 -3.9l0.5 -4l0.6 -4l0.5 -3.9l0.5 -4l0.5 -4l0.6 -3.9l0.5 -4l0.6 -4l0.5 -3.9l0.5 -4l0.6 -3.9l0.6 -4l0.6 -4l0.6 -3.9l0.6 -4l0.6 -3.9l0.7 -4l0.6 -3.9l0.7 -3.9l0.7 -4l0.7 -3.9l0.7 -4l0.7 -3.9l0.6 -4l0.6 -3.9l0.6 -4l0.7 -4l0.7 -3.9l0.8 -3.9l0.9 -4l0.9 -4.6l1.1 -5l1.2 -4.8l1.4 -4.1l1.6 -2.7l2 -1l4 0.2l4.6 0.3l2.3 0.8l1.6 2.2l1.4 3.5l1.2 4.3l0.9 4.8l0.9 4.9l0.9 4.7l0.8 4l0.8 3.9l0.7 4l0.7 3.9l0.6 4l0.7 3.9l0.7 4l0.7 3.9l0.7 3.9l0.7 4l0.6 3.9l0.7 4l0.6 3.9l0.6 4l0.5 3.9l0.6 4l0.5 4l0.5 3.9l0.5 4l0.5 4l0.5 4l0.5 3.9l0.5 4l0.5 4l0.4 3.9l0.5 4l0.5 4l0.5 4l0.5 3.9l0.4 4l0.5 4l0.5 3.9l0.4 4l0.5 4l0.4 4l0.4 3.9l0.5 4l0.4 4l0.4 4l0.5 4l0.4 3.9l0.4 4l0.4 4l0.5 4l0.4 3.9l0.4 4l0.5 4l0.4 4l0.4 4l0.4 3.9l0.5 4l0.4 4l0.4 4l0.4 3.9l0.5 4l0.4 4l0.4 4l0.5 4l0.4 3.9l0.4 4l0.5 4l0.4 4l0.5 3.9l0.4 4l0.5 4l0.4 4l0.5 3.9l0.4 4l0.5 4l0.4 4l0.5 3.9l0.4 4l0.5 4l0.5 4l0.4 3.9l0.5 4l0.5 4l0.5 3.9l0.4 4l0.5 4l0.5 4l0.5 3.9l0.5 4l0.5 4l0.5 3.9l0.5 4l0.5 4l0.5 3.9l0.5 4l0.5 4l0.5 4l0.5 3.9l0.5 4l0.5 4l0.6 3.9l0.5 4l0.5 3.9l0.6 4l0.5 4l0.5 3.9l0.6 4l0.5 4l0.6 3.9l0.5 4l0.6 4l0.5 3.9l0.6 4l0.5 3.9l0.6 4l0.6 4l0.6 3.9l0.5 4l0.6 3.9l0.6 4l0.6 4l0.6 3.9l0.6 4l0.6 3.9l0.6 4l0.6 3.9l0.6 4l0.6 3.9l0.6 4l0.6 3.9l0.6 4l0.7 3.9l0.6 4l0.6 4l0.6 3.9l0.7 4l0.6 3.9l0.6 3.9l0.7 4l0.6 3.9l0.7 4l0.6 3.9l0.7 4l0.7 3.9l0.6 4l0.7 3.9l0.7 4l0.6 3.9l0.7 3.9l0.7 4l0.7 3.9l0.7 4l0.7 3.9l0.7 4l0.7 3.9l0.7 3.9l0.7 4l0.7 3.9l0.8 3.9l0.7 4l0.8 3.9l0.8 3.9l0.7 3.9l0.8 4l0.8 3.9l0.8 3.9l0.9 3.9l0.8 3.9l0.8 3.9l0.9 4l0.8 3.9l0.9 3.9l0.9 3.9l0.9 3.9l1 3.8l0.9 3.9l1 3.9l1 3.9l1 3.9l1 3.8l1 3.9l1.1 3.9l1.1 3.8l1.1 3.8l1.1 3.9l1.2 3.8l1.2 3.8l1.2 3.8l1.2 3.8l1.3 3.8l1.3 3.8l1.3 3.8l1.3 3.8l1.4 3.8l1.4 3.7l1.4 3.7l1.4 3.8l1.5 3.7l1.5 3.7l1.5 3.7l1.6 3.7l1.6 3.7l1.6 3.7l1.7 3.6l1.7 3.6l1.7 3.6l1.8 3.5l1.9 3.6l1.9 3.5l2 3.5l2 3.5l2.1 3.4l2.2 3.3l2.2 3.3l2.3 3.3l2.4 3.2l2.5 3.2l2.5 3.1l2.6 3l2.7 3l2.7 2.9l2.9 2.8l2.9 2.8l2.9 2.8l2.9 2.7l2.9 2.7l3 2.7l2.9 2.7l2.9 2.8l2.9 2.7l2.9 2.8l2.8 2.8l2.8 2.9l2.8 2.9l2.7 2.9l2.6 3l2.7 3l2.6 3l2.7 3l2.7 3l2.7 3l2.7 3.1l2.7 2.8l3 2.7l3.1 2.4l3.4 2.3l3.5 2.1l3.7 1.3l4 0.9l3.9 0.4l3.5 -1.3l3.3 -2.8l2.9 -2.9l2.7 -2.9l2.5 -3.1l2.4 -3.3l2.2 -3.4l2.1 -3.5l2 -3.5l1.8 -3.5l1.8 -3.5l1.7 -3.7l1.6 -3.6l1.5 -3.8l1.6 -3.7l1.4 -3.7l1.5 -3.8l1.4 -3.7l1.4 -3.7l1.3 -3.8l1.3 -3.8l1.3 -3.8l1.3 -3.8l1.2 -3.8l1.3 -3.8l1.2 -3.8l1.3 -3.8l1.2 -3.8l1.1 -3.8l1.2 -3.9l1.2 -3.8l1.1 -3.8l1.2 -3.8l1.1 -3.9l1.2 -3.8l1.2 -3.8l1.2 -3.9l1.1 -3.8l1.2 -3.8l1.2 -3.8l1.2 -3.9l1.1 -3.8l1.2 -3.8l1.2 -3.8l1.3 -3.8l1.2 -3.8l1.2 -3.8l1.3 -3.8l1.3 -3.8l1.2 -3.8l1.3 -3.8l1.4 -3.8l1.3 -3.7l1.4 -3.8l1.5 -3.7l1.5 -3.7l1.5 -3.7l1.5 -3.7l1.6 -3.7l1.6 -3.7l1.7 -3.6l1.8 -3.6l1.7 -3.6l1.9 -3.6l1.9 -3.7l2 -3.5l2.1 -3.4l2.3 -3.1l2.5 -3l2.9 -3l3 -2.9l3.3 -2.4l3.5 -1.6l3.7 -1.2l4.1 -0.8l3.9 -0.1l3.8 1l3.8 1.8l3.5 2.3l3.3 2.2l2.9 2.4l2.8 2.8l2.7 3.1l2.5 3.3l2.5 3.3l2.3 3.2l2.4 3.3l2.2 3.3l2.1 3.4l2.1 3.4l2.1 3.4l2.1 3.4l2.1 3.4l2.1 3.4l2.1 3.4l2.1 3.5l2.1 3.4l2.1 3.4l2.2 3.3l2.2 3.4l2.2 3.3l2.3 3.3l2.3 3.3l2.3 3.3l2.4 3.1l2.5 3.1l2.6 3.1l2.6 3.1l2.7 3l2.8 2.9l2.8 2.8l2.9 2.7l3 2.6l3.1 2.6l3.1 2.4l3.3 2.4l3.2 2.4l3.3 2.2l3.4 2.2l3.4 2.1l3.4 2l3.5 2.1l3.4 2.1l3.3 2.1l3.4 2.2l3.4 2.2l3.3 2.2l3.3 2.2l3.3 2.3l3.3 2.3l3.2 2.4l3.1 2.5l3.2 2.4l3.2 2.4l3.3 2.4l3.2 2.3l3.2 2.4l3.3 2.3l3.4 2.1l3.4 2l3.5 1.9l3.6 1.8l3.7 1.7l3.6 1.6l3.7 1.5l3.7 1.5l3.8 1.4l3.8 1.2l3.8 1.2l3.9 1.1l3.8 1.1l3.9 1l3.9 0.9l3.9 0.8l4 0.8l3.9 0.7l4 0.2l4 -0.1l4 -0.2l4 -0.1l4 -0.1l4 0l4 0l4 0l4 0l4 0l4 0l4 0l4 0l4 0.1l4 0l4 0l4 0.1l4 0.1l4 0.1l4 0.1l4 0.1l4 0.1l4 0.1l4 0.1l4 0.2l4 0.1l4 0.2l4 0.2l4 0.1l4 0.2l4 0.1l4 0.1l4 0.1l4 0.1l4 0.1l4 0.1l4 0l4 0.1l4 0.1l4 0.1l4 0l4 0.1l4 0.1l4 0.1l4 0l4 0l4 0l4 -0.2l4 -0.1l4 -0.2l4 -0.2l4 -0.2l3.9 -0.5l4 -0.5l3.9 -0.7l4 -0.7l3.9 -0.6l4 -0.6l4 -0.6l3.9 -0.6l3.9 -0.8l3.9 -1l3.8 -1.5l3.8 -1.4l3.9 -0.8l3.9 0.1l4 0.8l4 0.8l3.9 0.6l3.9 -0.5l3.8 -1.4l3.6 -1.7l3.4 -2.2l3.5 -2.1l3.6 -1.5l3.9 -0.9l3.9 -1.1l3.7 -1.9l3.7 -1.5l3.8 0l4.1 0.4l4 0.2l4.5 -0.2l4.5 -0.2l3.8 -0.2l2.5 0l1.8 1.9l1.4 3.6l1.2 4.7l1.1 4.9l1.2 4.7l1.5 3.8l1.5 3.7l1.6 3.7l1.5 3.7l1.4 3.7l1.3 3.8l1.1 3.8l1 3.9l0.9 3.9l1 3.9l0.9 3.9l0.9 3.9l0.9 3.9l0.9 3.9l1 3.9l0.9 3.8l1 3.9l1 3.9l0.9 3.9l1 3.9l0.9 3.9l1 3.8l1 3.9l1 3.9l1.1 3.9l1 3.8l1 3.9l1.1 3.8l1 3.9l1.1 3.9l1.1 3.8l1.1 3.9l1.1 3.8" stroke="#ff00ff"/>
</g>
<g class="tl" text-anchor="middle">
<text x="359.9" y="3066.5">0.0</text>
<text x="530.5" y="3066.5">0.1</text>
<text x="701.1" y="3066.5">0.2</text>
<text x="871.7" y="3066.5">0.3</text>
<text x="1042.3" y="3066.5">0.4</text>
<text x="1212.9" y="3066.5">0.5</text>
<text x="1383.5" y="3066.5">0.6</text>
<text x="1554.2" y="3066.5">0.7</text>
<text x="1724.8" y="3066.5">0.8</text>
<text x="1895.4" y="3066.5">0.9</text>
<text x="2066.0" y="3066.5">1.0</text>
</g>
<g class="tl" text-anchor="end">
<text x="246.0" y="2987.5">-5</text>
<text x="246.0" y="2769.0">0</text>
<text x="246.0" y="2550.5">5</text>
<text x="246.0" y="2332.0">10</text>
<text x="246.0" y="2113.5">15</text>
<text x="246.0" y="1895.0">20</text>
<text x="246.0" y="1676.5">25</text>
</g>
<text class="al" text-anchor="middle" x="1179.5" y="3189.5">E (V vs. Pseudo Ag/AgCl)</text>
<text class="al" text-anchor="middle" transform="translate(79 2301.0) rotate(-90)">I / <tspan dx="13.5">µ</tspan><tspan dx="9.5">A</tspan></text>
<text class="al" style="font-size:76px" x="341.5" y="1775.8">B</text>
<rect x="1453.5" y="1718.0" width="560.5" height="307.2" fill="#fff" stroke="#4d4d4d" stroke-width="2"/>
<path d="M1477.0 1767.6H1637.5" stroke="#ff0000" stroke-width="6.2"/>
<text class="lg" font-size="72.0" x="1654.7" y="1791.3">Pt/C</text>
<path d="M1477.0 1856.5H1637.5" stroke="#0000ff" stroke-width="6.2"/>
<text class="lg" font-size="72.0" x="1654.7" y="1881.7">Pt<tspan font-size="50.4" dy="18.0">80</tspan><tspan dy="-18.0">Ru</tspan><tspan font-size="50.4" dy="18.0">20</tspan><tspan dy="-18.0">/C</tspan></text>
<path d="M1477.0 1966.0H1637.5" stroke="#ff00ff" stroke-width="6.2"/>
<text class="lg" font-size="72.0" x="1654.7" y="1990.0">Pt<tspan font-size="50.4" dy="18.0">60</tspan><tspan dy="-18.0">Ru</tspan><tspan font-size="50.4" dy="18.0">40</tspan><tspan dy="-18.0">/C</tspan></text>
<rect x="291.7" y="3292.0" width="1774.3" height="1312.7" fill="none" stroke="#000" stroke-width="10"/>
<path d="M291.7 4604.7V4630.7M469.1 4604.7V4630.7M646.6 4604.7V4630.7M824.0 4604.7V4630.7M1001.4 4604.7V4630.7M1178.9 4604.7V4630.7M1356.3 4604.7V4630.7M1533.7 4604.7V4630.7M1711.1 4604.7V4630.7M1888.6 4604.7V4630.7M2066.0 4604.7V4630.7M380.4 4604.7V4618.2M557.8 4604.7V4618.2M735.3 4604.7V4618.2M912.7 4604.7V4618.2M1090.1 4604.7V4618.2M1267.6 4604.7V4618.2M1445.0 4604.7V4618.2M1622.4 4604.7V4618.2M1799.9 4604.7V4618.2M1977.3 4604.7V4618.2M291.7 4517.2H265.7M291.7 4342.2H265.7M291.7 4167.1H265.7M291.7 3992.1H265.7M291.7 3817.1H265.7M291.7 3642.1H265.7M291.7 3467.0H265.7M291.7 3292.0H265.7M291.7 4604.7H278.2M291.7 4429.7H278.2M291.7 4254.6H278.2M291.7 4079.6H278.2M291.7 3904.6H278.2M291.7 3729.6H278.2M291.7 3554.5H278.2M291.7 3379.5H278.2" stroke="#000" stroke-width="10" fill="none"/>
<g fill="none" stroke-width="6.2" stroke-linejoin="round" stroke-linecap="butt">
<path d="M281.0 4515.0l3.9 1l3.8 1l3.9 1.1l3.9 1l3.8 1.2l3.9 1.1l3.9 0.8l3.9 0.6l4 0.5l4 0.4l4 0.3l4 0l4 0l4 -0.2l4 -0.2l4 -0.4l4 -0.3l3.9 -0.4l4 -0.5l3.9 -0.8l3.9 -0.9l3.9 -1l3.9 -1.1l3.8 -1l3.9 -1.2l3.8 -1.2l3.8 -1.3l3.7 -1.3l3.8 -1.5l3.7 -1.4l3.7 -1.5l3.7 -1.5l3.7 -1.7l3.6 -1.6l3.7 -1.7l3.6 -1.6l3.7 -1.6l3.7 -1.5l3.7 -1.6l3.7 -1.5l3.7 -1.5l3.7 -1.5l3.7 -1.5l3.7 -1.4l3.8 -1.5l3.7 -1.4l3.7 -1.4l3.8 -1.5l3.7 -1.4l3.8 -1.4l3.7 -1.4l3.7 -1.5l3.7 -1.5l3.7 -1.6l3.6 -1.6l3.7 -1.7l3.6 -1.7l3.6 -1.7l3.6 -1.8l3.5 -1.9l3.5 -1.9l3.5 -2l3.4 -2.1l3.4 -2.1l3.4 -2.2l3.4 -2.1l3.3 -2.2l3.3 -2.2l3.3 -2.3l3.3 -2.3l3.3 -2.3l3.3 -2.3l3.2 -2.3l3.2 -2.4l3.2 -2.4l3.2 -2.5l3.2 -2.4l3.1 -2.5l3.1 -2.5l3.1 -2.5l3.1 -2.6l3 -2.6l3 -2.6l3 -2.7l3 -2.7l2.9 -2.7l3 -2.7l2.8 -2.8l2.9 -2.8l2.8 -2.8l2.8 -2.9l2.8 -2.8l2.8 -2.9l2.7 -3l2.7 -2.9l2.7 -3l2.7 -2.9l2.7 -3l2.6 -3l2.6 -3.1l2.6 -3l2.5 -3.1l2.6 -3.1l2.5 -3.1l2.5 -3.1l2.5 -3.1l2.5 -3.2l2.5 -3.1l2.5 -3.1l2.5 -3.1l2.5 -3.2l2.4 -3.2l2.5 -3.1l2.4 -3.2l2.4 -3.2l2.4 -3.2l2.4 -3.2l2.4 -3.2l2.4 -3.2l2.3 -3.3l2.4 -3.2l2.3 -3.3l2.3 -3.2l2.3 -3.3l2.3 -3.3l2.2 -3.3l2.2 -3.3l2.2 -3.4l2.2 -3.3l2.2 -3.4l2.2 -3.4l2.1 -3.3l2.2 -3.4l2.1 -3.4l2.1 -3.4l2.1 -3.4l2.1 -3.4l2.1 -3.4l2.1 -3.4l2 -3.5l2.1 -3.4l2.1 -3.4l2.1 -3.4l2.1 -3.4l2.1 -3.4l2.1 -3.4l2.1 -3.4l2.1 -3.4l2.1 -3.4l2.1 -3.4l2.1 -3.4l2.1 -3.4l2.1 -3.4l2.1 -3.4l2.2 -3.4l2.1 -3.4l2.1 -3.4l2.1 -3.4l2.1 -3.4l2.2 -3.4l2.1 -3.4l2.1 -3.4l2.1 -3.4l2.2 -3.3l2.1 -3.4l2.2 -3.4l2.1 -3.4l2.1 -3.4l2.1 -3.4l2.1 -3.4l2.2 -3.4l2.1 -3.3l2.2 -3.4l2.3 -3.3l2.3 -3.3l2.3 -3.2l2.3 -3.3l2.4 -3.2l2.5 -3.2l2.4 -3.1l2.6 -3.1l2.5 -3.1l2.6 -3l2.7 -3l2.7 -2.9l2.8 -2.9l2.8 -2.9l2.9 -2.8l3 -2.6l3 -2.6l3.2 -2.5l3.2 -2.4l3.3 -2.4l3.3 -2.2l3.4 -2l3.5 -1.9l3.6 -1.8l3.7 -1.7l3.8 -1.3l3.8 -0.9l4 -0.8l4 -0.6l4 -0.1l4 0.4l4 0.6l3.9 0.7l3.8 0.9l3.8 1.4l3.6 1.8l3.6 1.9l3.4 2.1l3.4 2.1l3.2 2.3l3.2 2.6l3 2.6l3 2.7l2.9 2.7l2.8 2.9l2.7 2.9l2.7 3l2.6 3.1l2.5 3.1l2.5 3.2l2.4 3.1l2.3 3.3l2.3 3.3l2.2 3.3l2.2 3.3l2.2 3.4l2.2 3.4l2.1 3.3l2.2 3.4l2.1 3.4l2 3.5l2.1 3.4l2 3.4l2.1 3.5l2 3.4l2 3.5l2 3.4l2 3.5l2.1 3.4l2 3.5l2 3.5l2 3.4l2 3.5l2 3.5l2 3.4l2 3.5l2 3.5l1.9 3.4l2 3.5l2 3.5l1.9 3.5l2 3.5l1.9 3.5l2 3.5l1.9 3.5l1.9 3.5l1.9 3.5l1.9 3.5l2 3.5l1.9 3.6l1.9 3.5l1.9 3.5l1.9 3.5l1.9 3.5l2 3.5l2 3.5l2 3.4l2.1 3.4l2.1 3.4l2.2 3.4l2.3 3.3l2.2 3.3l2.4 3.2l2.4 3.2l2.5 3.1l2.6 3.1l2.7 3l2.8 2.9l2.9 2.7l3 2.6l3.1 2.6l3.3 2.3l3.4 2.1l3.4 2l3.7 1.8l3.7 1.6l3.7 1.2l3.9 1l3.9 0.9l4 0.7l4 0.5l4 0.2l3.9 0l4 0.1l4.1 0l4 0.1l4 0l4 0l4 0l4 0l4 0l4 0.1l4 0.4l3.9 0.7l4 0.7l3.9 0.8l3.8 1l3.9 1.2l3.7 1.5l3.7 1.6l3.6 1.7l3.5 1.9l3.5 2l3.4 2.1l3.3 2.2l3.2 2.4l3.3 2.4l3.1 2.4l3.2 2.5l3.1 2.5l3.1 2.5l3.1 2.6l3.1 2.5l3 2.6l3.1 2.6l3 2.6l3.1 2.5l3.1 2.6l3.1 2.5l3.1 2.6l3.1 2.5l3.1 2.5l3.2 2.4l3.2 2.4l3.2 2.4l3.2 2.4l3.2 2.4l3.2 2.3l3.3 2.4l3.3 2.3l3.2 2.3l3.3 2.3l3.3 2.2l3.3 2.3l3.3 2.3l3.3 2.2l3.3 2.3l3.3 2.2l3.3 2.3l3.3 2.2l3.3 2.3l3.3 2.3l3.3 2.2l3.3 2.3l3.3 2.3l3.3 2.2l3.4 2.2l3.3 2.3l3.3 2.2l3.3 2.2l3.4 2.2l3.3 2.2l3.4 2.1l3.4 2.1l3.5 2.1l3.4 2l3.5 2l3.5 2l3.5 1.9l3.5 1.9l3.5 1.9l3.6 1.8l3.6 1.8l3.6 1.8l3.6 1.7l3.6 1.7l3.6 1.6l3.7 1.6l3.7 1.6l3.7 1.5l3.7 1.5l3.7 1.5l3.8 1.4l3.7 1.3l3.8 1.3l3.9 1.1l3.8 1.2l3.9 1l3.8 1l3.9 1l3.9 0.8l4 0.8l3.9 0.8l3.9 0.7l4 0.5l4 0.3l4 0.4l4 0.3l4 0.2l4 0.1l4 0l4 -0.1l4 -0.2l4 -0.2l4 -0.1l4 0l4 -0.1l4 0l4 0l4 0.1l4 0.3l3.9 0.3l4 0.5l4 0.6l4 0.3l4 0l4 -0.1l4 0l4 -0.1l3.9 -0.5l4 -0.7l3.9 -0.6l4 -0.7l3.9 -0.8l3.9 -0.8l4 -0.7l3.9 -0.8l3.9 -0.7l4 -0.8l3.9 -0.7l3.9 -0.6l4 -0.6l4 -0.5l3.9 -0.6l4 -0.4l4 -0.5l4 -0.4l3.9 -0.4l4 -0.3l4 -0.3l4 -0.4l4 -0.3l4 -0.3l4 -0.4l4 -0.3l3.9 -0.3l4 -0.4l4 -0.4l4 -0.3l4 -0.4l4 -0.4l3.9 -0.3l4 -0.4l4 -0.4l4 -0.3l4 -0.2l4 -0.2l4 -0.2l4 -0.1l4 -0.1l4 -0.1l4 0l4 0.2l4 0.4l4 0.4l3.9 0.5l4 0.6l3.9 0.7l3.9 0.8l4 0.8l3.9 0.8l3.9 0.9l3.9 0.9l3.9 0.9l3.9 0.9l3.9 0.9l3.9 0.9l3.9 0.8l3.9 0.9l3.9 0.8l3.9 0.7l4 0.8l3.9 0.8l3.9 0.7l4 0.6l3.9 0.6l4 0.6l4 0.5l4 0.4l3.9 0.3l4 0.3l4 0.3l4 0.2l4 0.1l4 0l4 0l4 -0.1l4 -0.1l4 -0.1l4 -0.1l4 -0.1l4 -0.1l4 -0.1l4 -0.1l4 0l4 0l4 0l4 0.1l4 0.1l4 0.1l4 0.1l4 0.2l4 0.2l4 0.2l4 0.3l4 0.2l4 0.1l4 0l4 0.1l4 0l4 0l4 0.1l4 0l4 -0.1l4 -0.1l4 -0.1l4 -0.1l4 -0.1l4 0l4 0.1l4 0.3l4 0.3l4 0.3l4 0.4l3.9 0.6l4 0.6l3.8 1l3.9 1.2l3.8 1.2l3.9 0.9l3.9 0.7l3.9 0.7l4 0.6l4 0.4" stroke="#ff0000"/>
<path d="M281.0 4515.0l3.7 -1.6l3.9 -1.3l3.8 -0.7l4.1 -0.3l4 -0.3l3.7 -0.8l3.7 -1.5l3.5 -2.1l3.5 -2.3l3.3 -2.4l3.3 -2.3l3.1 -2.4l3.1 -2.5l3 -2.7l3 -2.8l2.8 -2.8l2.8 -2.9l2.7 -2.9l2.6 -3.1l2.5 -3.1l2.5 -3.2l2.4 -3.2l2.3 -3.3l2.3 -3.2l2.3 -3.3l2.2 -3.3l2.2 -3.4l2.1 -3.4l2.1 -3.4l2.1 -3.5l2 -3.4l2 -3.5l2 -3.4l1.9 -3.6l1.9 -3.5l1.8 -3.5l1.9 -3.6l1.8 -3.6l1.7 -3.6l1.8 -3.5l1.8 -3.6l1.7 -3.6l1.8 -3.6l1.7 -3.7l1.7 -3.6l1.6 -3.6l1.7 -3.7l1.7 -3.6l1.6 -3.7l1.7 -3.6l1.6 -3.6l1.7 -3.7l1.6 -3.6l1.7 -3.7l1.7 -3.6l1.7 -3.6l1.6 -3.7l1.7 -3.6l1.7 -3.6l1.7 -3.7l1.6 -3.6l1.7 -3.6l1.7 -3.7l1.7 -3.6l1.7 -3.6l1.6 -3.7l1.7 -3.6l1.7 -3.6l1.7 -3.7l1.7 -3.6l1.7 -3.6l1.6 -3.6l1.7 -3.7l1.7 -3.6l1.7 -3.6l1.7 -3.7l1.6 -3.6l1.7 -3.6l1.7 -3.7l1.7 -3.6l1.6 -3.6l1.7 -3.7l1.7 -3.6l1.7 -3.6l1.7 -3.7l1.7 -3.6l1.7 -3.6l1.7 -3.6l1.7 -3.6l1.7 -3.7l1.7 -3.6l1.7 -3.6l1.7 -3.7l1.6 -3.6l1.7 -3.6l1.7 -3.7l1.6 -3.6l1.6 -3.7l1.6 -3.6l1.6 -3.7l1.6 -3.7l1.6 -3.7l1.5 -3.7l1.5 -3.7l1.6 -3.7l1.5 -3.7l1.5 -3.7l1.5 -3.7l1.5 -3.7l1.5 -3.7l1.4 -3.7l1.5 -3.8l1.4 -3.7l1.4 -3.8l1.4 -3.7l1.4 -3.8l1.4 -3.7l1.3 -3.8l1.4 -3.8l1.3 -3.7l1.3 -3.8l1.4 -3.8l1.3 -3.8l1.3 -3.7l1.3 -3.8l1.2 -3.8l1.3 -3.8l1.3 -3.8l1.2 -3.8l1.2 -3.8l1.3 -3.8l1.2 -3.8l1.2 -3.9l1.3 -3.8l1.2 -3.8l1.2 -3.8l1.2 -3.8l1.2 -3.8l1.2 -3.8l1.2 -3.9l1.1 -3.8l1.2 -3.8l1.2 -3.8l1.2 -3.9l1.1 -3.8l1.2 -3.8l1.1 -3.9l1.1 -3.8l1.2 -3.8l1.1 -3.9l1.1 -3.8l1.1 -3.9l1.1 -3.8l1.2 -3.9l1.1 -3.8l1.1 -3.9l1.1 -3.8l1 -3.9l1.1 -3.8l1.1 -3.9l1.1 -3.8l1.1 -3.9l1.1 -3.8l1.1 -3.9l1 -3.8l1.1 -3.9l1.1 -3.8l1 -3.9l1.1 -3.9l1.1 -3.8l1 -3.9l1.1 -3.8l1 -3.9l1.1 -3.8l1 -3.9l1.1 -3.9l1 -3.8l1.1 -3.9l1 -3.9l1 -3.8l1.1 -3.9l1 -3.9l1.1 -3.8l1 -3.9l1.1 -3.8l1 -3.9l1.1 -3.9l1.1 -3.8l1 -3.9l1.1 -3.8l1.1 -3.9l1.1 -3.8l1.1 -3.9l1.1 -3.8l1.1 -3.9l1 -3.8l1.1 -3.9l1.1 -3.8l1.1 -3.9l1.1 -3.8l1.1 -3.9l1.1 -3.8l1.1 -3.9l1.1 -3.8l1.1 -3.9l1.1 -3.8l1.1 -3.9l1.1 -3.8l1.1 -3.9l1.1 -3.8l1.1 -3.8l1.1 -3.9l1.1 -3.8l1.1 -3.9l1.1 -3.8l1.1 -3.9l1.1 -3.9l1.1 -3.8l1.1 -3.9l1 -3.8l1.1 -3.9l1.1 -3.8l1.1 -3.9l1.1 -3.8l1.1 -3.9l1 -3.8l1.1 -3.9l1.1 -3.8l1 -3.9l1.1 -3.8l1.1 -3.9l1 -3.9l1.1 -3.8l1.1 -3.9l1 -3.8l1.1 -3.9l1.1 -3.8l1 -3.9l1.1 -3.9l1.1 -3.8l1.1 -3.9l1 -3.8l1.1 -3.9l1.1 -3.8l1.1 -3.9l1 -3.8l1.1 -3.9l1.1 -3.8l1.1 -3.9l1.1 -3.8l1.1 -3.9l1.1 -3.8l1.1 -3.9l1.2 -3.8l1.1 -3.9l1.1 -3.8l1.2 -3.8l1.1 -3.9l1.1 -3.8l1.2 -3.8l1.2 -3.9l1.2 -3.8l1.2 -3.8l1.2 -3.8l1.2 -3.8l1.2 -3.8l1.3 -3.8l1.2 -3.8l1.3 -3.8l1.3 -3.8l1.3 -3.8l1.3 -3.8l1.4 -3.8l1.4 -3.7l1.4 -3.7l1.5 -3.8l1.4 -3.7l1.6 -3.7l1.5 -3.7l1.6 -3.7l1.6 -3.7l1.7 -3.6l1.8 -3.6l1.8 -3.5l1.8 -3.6l2 -3.5l2 -3.6l2.1 -3.4l2.2 -3.4l2.3 -3.2l2.5 -3.1l2.6 -3l2.9 -3.1l3 -2.8l3.2 -2.4l3.4 -1.7l3.7 -1.2l4 -1.1l4 -0.7l3.9 -0.1l4 0.8l3.9 1.4l3.7 1.9l3.3 1.8l3.1 2.3l2.8 2.8l2.7 3.2l2.6 3.3l2.4 3.3l2.3 3.3l2.1 3.3l2.1 3.4l1.9 3.5l1.9 3.6l1.8 3.6l1.8 3.7l1.7 3.6l1.6 3.6l1.6 3.7l1.6 3.6l1.5 3.8l1.5 3.7l1.4 3.7l1.4 3.8l1.4 3.7l1.4 3.8l1.4 3.8l1.3 3.7l1.3 3.8l1.3 3.8l1.2 3.8l1.3 3.8l1.2 3.8l1.2 3.8l1.2 3.9l1.2 3.8l1.1 3.8l1.2 3.9l1.1 3.8l1.1 3.8l1.1 3.9l1.1 3.8l1.1 3.9l1 3.9l1.1 3.8l1 3.9l1 3.9l1 3.8l1 3.9l1 3.9l1 3.9l1 3.9l0.9 3.8l1 3.9l0.9 3.9l1 3.9l0.9 3.9l0.9 3.9l0.9 3.9l0.9 3.9l0.9 3.9l0.9 3.9l0.9 3.9l0.9 3.9l0.9 3.9l0.8 3.9l0.9 3.9l0.9 3.9l0.8 3.9l0.9 3.9l0.9 3.9l0.8 4l0.9 3.9l0.8 3.9l0.8 3.9l0.9 3.9l0.8 3.9l0.8 3.9l0.9 3.9l0.8 4l0.8 3.9l0.8 3.9l0.9 3.9l0.8 3.9l0.8 3.9l0.8 4l0.8 3.9l0.8 3.9l0.8 3.9l0.8 4l0.8 3.9l0.8 3.9l0.8 3.9l0.8 3.9l0.7 4l0.8 3.9l0.8 3.9l0.8 3.9l0.8 4l0.8 3.9l0.7 3.9l0.8 3.9l0.8 4l0.8 3.9l0.8 3.9l0.7 3.9l0.8 4l0.8 3.9l0.8 3.9l0.7 3.9l0.8 4l0.8 3.9l0.8 3.9l0.8 3.9l0.8 4l0.8 3.9l0.8 3.9l0.8 3.9l0.9 3.9l0.8 3.9l0.9 4l0.8 3.9l0.9 3.9l0.9 3.9l0.8 3.9l0.9 3.9l0.9 3.9l0.9 3.9l1 3.9l0.9 3.9l0.9 3.8l1 3.9l1 3.9l0.9 3.9l1 3.9l1 3.8l1.1 3.9l1 3.9l1 3.8l1.1 3.9l1.1 3.9l1.1 3.8l1.1 3.9l1.1 3.8l1.2 3.8l1.2 3.8l1.2 3.9l1.2 3.8l1.3 3.8l1.2 3.8l1.4 3.7l1.3 3.8l1.4 3.8l1.5 3.7l1.5 3.7l1.6 3.7l1.6 3.6l1.6 3.7l1.8 3.6l1.8 3.6l1.8 3.5l2 3.5l2 3.5l2.1 3.4l2.2 3.3l2.3 3.3l2.5 3.2l2.5 3.1l2.5 3.1l2.7 2.9l2.8 2.9l2.9 2.8l3 2.7l3 2.6l3.1 2.4l3.2 2.5l3.2 2.4l3.2 2.4l3.2 2.5l3.2 2.4l3.2 2.4l3.1 2.5l3.1 2.5l3 2.7l2.9 2.7l2.9 2.8l2.8 2.8l2.8 2.9l2.7 3l2.6 3l2.5 3.1l2.5 3.1l2.5 3.2l2.5 3.1l2.4 3.2l2.5 3.1l2.5 3.2l2.4 3.2l2.4 3.1l2.4 3.2l2.4 3.3l2.4 3.2l2.4 3.2l2.3 3.2l2.4 3.3l2.3 3.2l2.3 3.3l2.2 3.3l2.2 3.4l2.3 3.3l2.2 3.3l2.2 3.3l2.3 3.3l2.2 3.4l2.2 3.3l2.2 3.3l2.3 3.3l2.2 3.3l2.3 3.3l2.3 3.3l2.3 3.3l2.2 3.3l2.4 3.3l2.3 3.2l2.3 3.3l2.4 3.2l2.5 3.2l2.4 3.1l2.5 3.1l2.6 3.1l2.5 3.1l2.6 3.1l2.6 3l2.5 3.1l2.6 3.1l2.7 3l2.6 3l2.6 3l2.7 3l2.6 3l2.6 3l2.7 3.1l2.6 3l2.6 3l2.7 3l2.6 3l2.6 3l2.6 3.1l2.6 3.1l2.5 3.1l2.5 3.1l2.6 3.1l2.5 3.1l2.4 3.1l2.5 3.2l2.4 3.2l2.5 3.1l2.4 3.2l2.4 3.2l2.4 3.3l2.3 3.2l2.4 3.2l2.4 3.2l2.4 3.2l2.3 3.3l2.3 3.2l2.3 3.3l2.3 3.3l2.2 3.3l2.3 3.3l2.3 3.3l2.3 3.3l2.3 3.2l2.3 3.3l2.4 3.2l2.4 3.3l2.4 3.2l2.4 3.2l2.4 3.1l2.5 3.2l2.5 3.1l2.5 3.1l2.5 3.2l2.5 3l2.6 3.1l2.6 3.1l2.6 3l2.6 3l2.6 3.1l2.6 3l2.6 3l2.6 3.1l2.7 3l2.6 3l2.7 3l2.7 2.9l2.7 3l2.7 3l2.7 2.9l2.9 2.7l2.9 2.8l3 2.6l3.1 2.6l3.1 2.5l3.3 2.3l3.3 2.2l3.4 2.1l3.4 2.1l3.5 2.1l3.4 2l3.5 2.1l3.4 2.1l3.4 2.1l3.5 1.8l3.7 2l3.7 1.9l3.7 1.3l3.8 0.2l3.8 -1.2l3.7 -2l3.3 -2l3.1 -2.6l2.9 -2.9l2.7 -3.1l2.3 -3.1l2.1 -3.4l2 -3.5l1.8 -3.6l1.8 -3.7l1.7 -3.6l1.7 -3.6l1.6 -3.7l1.5 -3.7l1.5 -3.7l1.5 -3.7l1.4 -3.8l1.3 -3.8l1.3 -3.7l1.3 -3.8l1.2 -3.8l1.2 -3.8l1.2 -3.9l1.1 -3.8l1.2 -3.9l1.1 -3.8l1.2 -3.8l1.1 -3.9l1.1 -3.8l1.1 -3.9l1.1 -3.8l1.1 -3.9l1.1 -3.8l1 -3.9l1.1 -3.8l1 -3.9l1.1 -3.9l1 -3.8l1 -3.9l1 -3.9l1 -3.9l1 -3.8l0.9 -3.9l1 -3.9l0.9 -3.9l1 -3.9l0.9 -3.9l0.9 -3.9l0.9 -3.9l0.9 -3.9l0.9 -3.9l0.9 -3.9l0.9 -3.9l0.9 -3.9l0.9 -3.9l0.8 -3.9l0.9 -3.9l0.8 -3.9l0.9 -3.9l0.8 -3.9l0.8 -4l0.8 -3.9l0.8 -3.9l0.9 -3.9l0.8 -3.9l0.8 -3.9l0.8 -4l0.8 -3.9l0.8 -3.9l0.9 -3.9l0.8 -3.9l0.9 -3.9l0.8 -4l0.8 -3.9l0.9 -3.9l0.8 -3.9l0.8 -3.9l0.9 -3.9l0.9 -3.9l0.8 -3.9l0.9 -3.9l0.9 -3.9l1 -3.9l0.9 -3.9l1 -3.9l1 -3.9l0.9 -3.9l1 -3.8l1.1 -3.9l1 -3.9l1.1 -3.8l1.1 -3.9l1.1 -3.8l1.2 -3.9l1.1 -3.8l1.3 -3.8l1.2 -3.8l1.3 -3.8l1.3 -3.8l1.3 -3.8l1.5 -3.8l1.4 -3.7l1.6 -3.7l1.7 -3.5l1.7 -3.6l1.9 -3.6l2.1 -3.6l2.2 -3.4l2.3 -3.2l2.6 -2.9l2.9 -3.1l3.2 -2.9l3.5 -1.7l3.5 0.3l3.7 1.7l3.7 2.3l3.2 2.3l3.1 2.5l2.9 2.8l2.7 3.1l2.6 3.2l2.4 3.2l2.3 3.2l2.2 3.3l2.1 3.4l2 3.5l1.9 3.6l1.8 3.5l1.9 3.6l1.8 3.6l1.8 3.6l1.7 3.6l1.7 3.6l1.6 3.6l1.6 3.7l1.7 3.7l1.6 3.6l1.6 3.7l1.7 3.6l1.6 3.7l1.6 3.7l1.6 3.6l1.6 3.7l1.7 3.6l1.6 3.7l1.7 3.6l1.7 3.7l1.7 3.6l1.7 3.6l1.8 3.6l1.7 3.6l1.8 3.6l1.9 3.5l1.8 3.6l1.9 3.5l2 3.4l2 3.5l2.1 3.4l2.1 3.4l2.2 3.4l2.2 3.4l2.2 3.2l2.3 3.3l2.4 3.2l2.5 3.2l2.5 3.1l2.5 3.1l2.6 3.1l2.6 3l2.7 3l2.7 2.9l2.8 2.9l2.8 2.9l2.8 2.9l2.7 2.8l2.8 2.9l2.9 2.8l2.8 2.9l2.8 2.8l2.8 2.8l2.8 2.9l2.7 2.9l2.8 3l2.7 2.9l2.7 3l2.7 2.9l2.6 3l2.6 3.1l2.6 3l2.6 3.1l2.6 3l2.5 3.1l2.5 3.2l2.5 3.1l2.5 3.1l2.5 3.1l2.5 3.2l2.5 3.1l2.4 3.2l2.5 3.1l2.4 3.2l2.5 3.1l2.5 3.2l2.5 3.1l2.5 3.1l2.5 3.1l2.5 3.1l2.6 3.1l2.6 3.1l2.6 3l2.6 3.1l2.6 3l2.7 3l2.7 2.9l2.7 2.9l2.8 2.9l2.8 2.9l2.9 2.8l2.8 2.8l2.9 2.7l3 2.7l2.9 2.7l3.1 2.6l3 2.6l3.1 2.6l3.1 2.5l3.1 2.5l3.2 2.5l3.1 2.4l3.2 2.5l3.2 2.3l3.3 2.4l3.2 2.4l3.3 2.3l3.2 2.3l3.3 2.3l3.3 2.2l3.4 2.2l3.3 2.2l3.4 2.2l3.4 2.1l3.4 2.2l3.4 2.1l3.4 2l3.5 2l3.5 2l3.5 1.8l3.5 1.9l3.6 1.8l3.7 1.7l3.6 1.6l3.7 1.6l3.7 1.5l3.8 1.4l3.7 1.3l3.9 1.2l3.8 1.1l3.9 1l3.9 0.8l3.9 0.8l4 0.7l4 0.4l4 0.1l4 -0.1l4 -0.2l4 -0.3l4 -0.3l3.9 -0.3l4 -0.6l4 -0.5l4 0l4 0.1l3.9 0.5l3.9 1.2l3.7 1.4l3.5 1.8l3.4 2.2l3.4 2.2l3.6 1.9l3.6 1.8l3.7 1.5l3.8 1.1l3.9 0.8l4 0.5l4 0l4 -0.2l4.1 -0.3l3.9 -0.5l3.9 -0.7l3.9 -1.2l3.8 -1.4l3.7 -1.4l3.7 -1.6l3.6 -1.8l3.4 -2.1l3.1 -2.4l2.8 -2.9l2.8 -3l3 -2.6l3.2 -2.4l3.3 -2.3l3.6 -2l3.3 1.2l3.2 3l3.3 2.5l3.3 2.1l3.5 2.1l3.5 1.9" stroke="#0000ff"/>
<path d="M281.0 4505.7l3.6 -1.8l3.6 -1.8l3.5 -1.9l3.5 -1.9l3.5 -2l3.4 -2l3.4 -2.1l3.4 -2.1l3.4 -2.2l3.3 -2.2l3.4 -2.2l3.3 -2.2l3.4 -2.1l3.3 -2.3l3.4 -2.2l3.3 -2.2l3.3 -2.3l3.3 -2.2l3.3 -2.3l3.3 -2.3l3.2 -2.3l3.3 -2.3l3.2 -2.3l3.3 -2.4l3.2 -2.4l3.2 -2.3l3.2 -2.4l3.2 -2.4l3.3 -2.4l3.2 -2.4l3.2 -2.4l3.2 -2.4l3.2 -2.4l3.2 -2.4l3.1 -2.4l3.2 -2.4l3.2 -2.5l3.2 -2.4l3.2 -2.4l3.2 -2.4l3.2 -2.4l3.2 -2.4l3.2 -2.4l3.2 -2.4l3.2 -2.4l3.2 -2.4l3.2 -2.3l3.3 -2.4l3.2 -2.4l3.3 -2.3l3.2 -2.3l3.3 -2.4l3.2 -2.3l3.3 -2.3l3.3 -2.3l3.3 -2.2l3.3 -2.3l3.3 -2.3l3.3 -2.2l3.3 -2.3l3.3 -2.2l3.3 -2.2l3.4 -2.2l3.3 -2.3l3.4 -2.1l3.3 -2.2l3.4 -2.2l3.3 -2.2l3.4 -2.2l3.4 -2.1l3.3 -2.1l3.5 -2.1l3.4 -2.1l3.4 -2l3.5 -2l3.5 -1.9l3.5 -1.9l3.6 -1.9l3.5 -1.9l3.6 -1.8l3.6 -1.7l3.7 -1.6l3.6 -1.6l3.7 -1.5l3.8 -1.5l3.7 -1.4l3.8 -1.4l3.8 -1.1l3.8 -1.1l3.9 -1.1l3.9 -1l3.9 -0.9l4 -0.8l3.9 -0.6l3.9 -0.6l4 -0.6l4 -0.4l4 -0.3l4 -0.1l4 -0.1l4 -0.1l4 0l4 0.1l4 0.4l4 0.5l3.9 0.5l4 0.7l3.9 0.8l3.9 1l3.8 1.3l3.8 1.3l3.7 1.3l3.7 1.6l3.6 1.7l3.6 1.8l3.5 1.9l3.5 2l3.4 2.1l3.4 2.1l3.3 2.3l3.3 2.3l3.2 2.3l3.3 2.4l3.2 2.4l3.1 2.5l3.1 2.5l3.1 2.5l3.1 2.5l3.1 2.6l3.1 2.5l3.1 2.5l3.1 2.6l3.1 2.6l3 2.6l3.1 2.5l3.1 2.6l3.1 2.5l3.1 2.5l3.1 2.5l3.2 2.5l3.1 2.5l3.2 2.4l3.2 2.4l3.2 2.4l3.2 2.4l3.2 2.4l3.3 2.3l3.2 2.3l3.3 2.3l3.3 2.3l3.3 2.2l3.3 2.3l3.3 2.2l3.4 2.2l3.3 2.3l3.3 2.2l3.4 2.2l3.3 2.2l3.4 2.2l3.3 2.2l3.4 2.2l3.3 2.1l3.5 2.1l3.4 2.1l3.4 2.1l3.5 2l3.5 1.9l3.5 1.8l3.6 1.7l3.7 1.7l3.7 1.5l3.8 1.4l3.7 1.3l3.8 1.2l3.9 1.1l3.9 1l3.9 0.9l3.9 0.8l3.9 0.8l3.9 0.7l4 0.6l4 0.6l3.9 0.6l4 0.6l3.9 0.5l4 0.5l4 0.5l4 0.5l3.9 0.5l4 0.5l4 0.5l3.9 0.5l4 0.6l4 0.5l3.9 0.6l4 0.6l3.9 0.6l4 0.6l3.9 0.7l4 0.6l3.9 0.7l4 0.7l3.9 0.7l3.9 0.7l4 0.7l3.9 0.8l3.9 0.7l4 0.7l3.9 0.8l3.9 0.8l4 0.7l3.9 0.8l3.9 0.8l3.9 0.8l4 0.8l3.9 0.8l3.9 0.8l3.9 0.8l3.9 0.8l3.9 0.8l4 0.9l3.9 0.8l3.9 0.9l3.9 0.8l3.9 0.9l3.9 0.9l3.9 1l3.9 0.9l3.8 1l3.9 0.9l3.9 1l3.9 1l3.9 1l3.8 1l3.9 1l3.9 1l3.9 1l3.8 0.9l3.9 1l3.9 1l3.9 0.9l3.9 0.9l3.9 0.9l3.9 0.9l3.9 0.8l3.9 0.8l4 0.8l3.9 0.7l3.9 0.7l4 0.6l4 0.6l3.9 0.6l4 0.6l3.9 0.5l4 0.4l4 0.4l4 0.4l4 0.4l4 0.3l3.9 0.3l4 0.3l4 0.2l4 0.2l4 0.2l4 0.1l4 0.2l4 0.1l4 0.1l4 0.1l4 0.2l4 0.1l4 0.1l4 0l4 0.1l4 0.1l4 0l4 0.1l4 0l4 0l4 0l4 -0.1l4 -0.1l4 -0.1l4 -0.1l4 -0.2l4 -0.3l4 -0.5l4 -0.6l3.9 -0.6l3.9 -0.7l3.9 -1l3.9 -1l3.8 -1.1l3.8 -1.2l3.8 -1.4l3.8 -1.4l3.7 -1.4l3.7 -1.5l3.7 -1.6l3.7 -1.6l3.6 -1.6l3.7 -1.6l3.8 -1.4l3.7 -1.4l3.8 -1.4l3.8 -1.3l3.8 -1.1l3.9 -1l3.9 -0.9l3.9 -0.9l3.9 -0.8l4 -0.6l4 -0.4l3.9 -0.3l4 -0.3l4 -0.2l4 0l4 0l4 0.2l4 0.3l4 0.4l4 0.4l3.9 0.6l4 0.7l3.9 0.8l3.9 0.8l3.9 1l3.9 1l3.8 1.1l3.9 1.1l3.8 1.2l3.8 1.2l3.8 1.2l3.8 1.2l3.8 1.3l3.8 1.2l3.9 1.3l3.8 1.1l3.8 1.2l3.8 1.1l3.9 1.2l3.9 1l3.8 0.9l3.9 1l3.9 0.8l4 0.8l3.9 0.7l3.9 0.7l4 0.6l4 0.5l3.9 0.5l4 0.4l4 0.3l4 0.3l4 0.3l4 0.2l4 0.2l4 0.1l4 0.1l4 0.1l4 0l4 0l4 0l4 0l4 0l4 0l4 0.1l4 0l4 0.1l4 0l4 0.1l4 0l4 0.1l4 0l4 0l4 0.1l4 0l4 0.1l4 0l4 0.1l4 0l4 0.1l4 0l4 0.1l4 0.1l4 0l4 0.1l4 0l4 0.1l4 0.1l4 0l4 0.1l4 0.1l4 0l4 0.1l4 0.1l4 0l4 0.1l4 0.1l4 0l4 0.1l4 0.1l4 0l4 0.1l4 0l4 0.1l4 0l4 0.1l4 0l4 0.1l4 0.1l4 0l4 0.1l4 0l4 0.1l4 0l4 0l4 0.1l4 0l4 0l4 0l4 0l4 0l4 0l4 0l4 0l4.1 0l4 0l4 0l4 0l4 0l4 0l4 0l4 0l4 0l4 0l4 0l4 0l4 -0.1l4 0l4 0l4 0l4 0l4 0l4 0l4 0l4 0l4 0l4 0l4 0l4 0l4 0l4 0l4 0.1l4 0.1l4 0l4 0.2l4 0.1l4 0.1l4 0.1l4 0l4 0.1l4 0.1l4 0l4 0l4 0.1l4 0l4 0.1l4 0l4 0.1l4 0l4 0l4 0l4 0.1l4 0l4 0l4 0" stroke="#ff00ff"/>
</g>
<g class="tl" text-anchor="middle">
<text x="291.7" y="4705.7">0.0</text>
<text x="469.1" y="4705.7">0.1</text>
<text x="646.6" y="4705.7">0.2</text>
<text x="824.0" y="4705.7">0.3</text>
<text x="1001.4" y="4705.7">0.4</text>
<text x="1178.9" y="4705.7">0.5</text>
<text x="1356.3" y="4705.7">0.6</text>
<text x="1533.7" y="4705.7">0.7</text>
<text x="1711.1" y="4705.7">0.8</text>
<text x="1888.6" y="4705.7">0.9</text>
<text x="2066.0" y="4705.7">1.0</text>
</g>
<g class="tl" text-anchor="end">
<text x="246.0" y="4539.2">0</text>
<text x="246.0" y="4364.2">10</text>
<text x="246.0" y="4189.1">20</text>
<text x="246.0" y="4014.1">30</text>
<text x="246.0" y="3839.1">40</text>
<text x="246.0" y="3664.1">50</text>
<text x="246.0" y="3489.0">60</text>
<text x="246.0" y="3314.0">70</text>
</g>
<text class="al" text-anchor="middle" x="1179.5" y="4828.7">E (V vs. Pseudo Ag/AgCl)</text>
<text class="al" text-anchor="middle" transform="translate(79 3939.3) rotate(-90)">I / <tspan dx="13.5">µ</tspan><tspan dx="9.5">A</tspan></text>
<text class="al" style="font-size:76px" x="357.5" y="3399.5">C</text>
<rect x="1421.0" y="3314.0" width="561.5" height="307.9" fill="#fff" stroke="#4d4d4d" stroke-width="2"/>
<path d="M1440.0 3366.3H1601.5" stroke="#ff0000" stroke-width="6.2"/>
<text class="lg" font-size="72.5" x="1614.5" y="3389.0">Pt/C</text>
<path d="M1440.0 3458.5H1601.5" stroke="#0000ff" stroke-width="6.2"/>
<text class="lg" font-size="72.5" x="1614.5" y="3482.0">Pt<tspan font-size="50.8" dy="18.1" dx="5.0">60</tspan><tspan dy="-18.1">Ru</tspan><tspan font-size="50.8" dy="18.1">40</tspan><tspan dy="-18.1">/C</tspan></text>
<path d="M1440.0 3565.8H1601.5" stroke="#ff00ff" stroke-width="6.2"/>
<text class="lg" font-size="72.5" x="1614.5" y="3589.0">Pt<tspan font-size="50.8" dy="18.1" dx="5.0">80</tspan><tspan dy="-18.1">Ru</tspan><tspan font-size="50.8" dy="18.1">20</tspan><tspan dy="-18.1">/C</tspan></text>
</svg></body></html>
